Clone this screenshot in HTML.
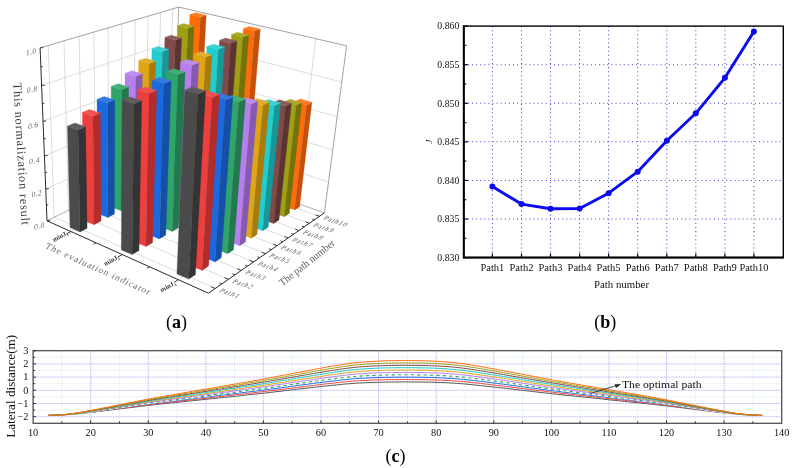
<!DOCTYPE html>
<html><head><meta charset="utf-8"><title>Figure</title>
<style>html,body{margin:0;padding:0;background:#fff;overflow:hidden}svg{display:block}</style></head>
<body><svg width="796" height="468" viewBox="0 0 796 468">
<rect width="796" height="468" fill="#ffffff"/>
<g id="chart-a" fill="none" stroke-linecap="butt">
<line x1="54.2" y1="217.3" x2="48.2" y2="45.5" stroke="#c4c4c4" stroke-width="0.6" />
<line x1="68.4" y1="210.3" x2="64.0" y2="40.8" stroke="#c4c4c4" stroke-width="0.6" />
<line x1="82.2" y1="203.6" x2="79.2" y2="36.4" stroke="#c4c4c4" stroke-width="0.6" />
<line x1="95.5" y1="197.1" x2="93.9" y2="32.0" stroke="#c4c4c4" stroke-width="0.6" />
<line x1="108.4" y1="190.8" x2="108.2" y2="27.8" stroke="#c4c4c4" stroke-width="0.6" />
<line x1="120.9" y1="184.7" x2="121.9" y2="23.8" stroke="#c4c4c4" stroke-width="0.6" />
<line x1="133.1" y1="178.8" x2="135.3" y2="19.9" stroke="#c4c4c4" stroke-width="0.6" />
<line x1="144.9" y1="173.0" x2="148.2" y2="16.1" stroke="#c4c4c4" stroke-width="0.6" />
<line x1="156.4" y1="167.4" x2="160.7" y2="12.4" stroke="#c4c4c4" stroke-width="0.6" />
<line x1="167.5" y1="162.0" x2="172.8" y2="8.9" stroke="#c4c4c4" stroke-width="0.6" />
<line x1="45.7" y1="189.0" x2="174.1" y2="131.0" stroke="#c4c4c4" stroke-width="0.6" />
<line x1="44.4" y1="155.8" x2="175.2" y2="101.6" stroke="#c4c4c4" stroke-width="0.6" />
<line x1="43.0" y1="121.3" x2="176.3" y2="71.2" stroke="#c4c4c4" stroke-width="0.6" />
<line x1="41.6" y1="85.4" x2="177.5" y2="39.8" stroke="#c4c4c4" stroke-width="0.6" />
<line x1="195.9" y1="167.4" x2="203.9" y2="12.9" stroke="#c4c4c4" stroke-width="0.6" />
<line x1="244.4" y1="184.6" x2="257.4" y2="25.3" stroke="#c4c4c4" stroke-width="0.6" />
<line x1="296.7" y1="203.1" x2="315.6" y2="38.7" stroke="#c4c4c4" stroke-width="0.6" />
<line x1="174.1" y1="131.0" x2="328.5" y2="182.0" stroke="#c4c4c4" stroke-width="0.6" />
<line x1="175.2" y1="101.6" x2="332.8" y2="150.0" stroke="#c4c4c4" stroke-width="0.6" />
<line x1="176.3" y1="71.2" x2="337.2" y2="116.7" stroke="#c4c4c4" stroke-width="0.6" />
<line x1="177.5" y1="39.8" x2="341.8" y2="82.0" stroke="#c4c4c4" stroke-width="0.6" />
<line x1="54.2" y1="217.3" x2="215.2" y2="288.5" stroke="#c4c4c4" stroke-width="0.6" />
<line x1="68.4" y1="210.3" x2="228.4" y2="279.3" stroke="#c4c4c4" stroke-width="0.6" />
<line x1="82.2" y1="203.6" x2="241.2" y2="270.4" stroke="#c4c4c4" stroke-width="0.6" />
<line x1="95.5" y1="197.1" x2="253.6" y2="261.9" stroke="#c4c4c4" stroke-width="0.6" />
<line x1="108.4" y1="190.8" x2="265.5" y2="253.7" stroke="#c4c4c4" stroke-width="0.6" />
<line x1="120.9" y1="184.7" x2="277.0" y2="245.7" stroke="#c4c4c4" stroke-width="0.6" />
<line x1="133.1" y1="178.8" x2="288.2" y2="238.0" stroke="#c4c4c4" stroke-width="0.6" />
<line x1="144.9" y1="173.0" x2="299.0" y2="230.5" stroke="#c4c4c4" stroke-width="0.6" />
<line x1="156.4" y1="167.4" x2="309.4" y2="223.3" stroke="#c4c4c4" stroke-width="0.6" />
<line x1="167.5" y1="162.0" x2="319.5" y2="216.3" stroke="#c4c4c4" stroke-width="0.6" />
<line x1="71.0" y1="231.6" x2="195.9" y2="167.4" stroke="#c4c4c4" stroke-width="0.6" />
<line x1="122.2" y1="254.6" x2="244.4" y2="184.6" stroke="#c4c4c4" stroke-width="0.6" />
<line x1="178.3" y1="279.7" x2="296.7" y2="203.1" stroke="#c4c4c4" stroke-width="0.6" />
<line x1="47.0" y1="220.8" x2="173.0" y2="159.3" stroke="#8c8c8c" stroke-width="0.7" />
<line x1="173.0" y1="159.3" x2="324.4" y2="212.9" stroke="#8c8c8c" stroke-width="0.7" />
<line x1="173.0" y1="159.3" x2="178.7" y2="7.1" stroke="#8c8c8c" stroke-width="0.7" />
<line x1="40.1" y1="47.9" x2="178.7" y2="7.1" stroke="#8c8c8c" stroke-width="0.8" />
<line x1="178.7" y1="7.1" x2="346.6" y2="45.8" stroke="#8c8c8c" stroke-width="0.8" />
<line x1="346.6" y1="45.8" x2="324.4" y2="212.9" stroke="#8c8c8c" stroke-width="0.8" />
</g>
<g id="bars" stroke="none">
<polygon points="183.1,170.3 192.5,173.7 200.4,17.1 189.9,14.5" fill="#ff6d0a" stroke="#ff6d0a" stroke-width="0.3"/>
<polygon points="192.5,173.7 197.9,170.8 206.2,15.2 200.4,17.1" fill="#c4500a" stroke="#c4500a" stroke-width="0.3"/>
<polygon points="189.9,14.5 200.4,17.1 206.2,15.2 195.8,12.7" fill="#ff7c22" stroke="#ff7c22" stroke-width="0.3"/>
<polygon points="171.9,175.9 181.5,179.4 188.0,28.2 177.6,25.5" fill="#9f9f16" stroke="#9f9f16" stroke-width="0.3"/>
<polygon points="181.5,179.4 187.0,176.5 194.1,26.2 188.0,28.2" fill="#73730e" stroke="#73730e" stroke-width="0.3"/>
<polygon points="177.6,25.5 188.0,28.2 194.1,26.2 183.6,23.6" fill="#a9a92d" stroke="#a9a92d" stroke-width="0.3"/>
<polygon points="160.5,181.7 170.1,185.3 175.4,40.0 164.9,37.2" fill="#804a4a" stroke="#804a4a" stroke-width="0.3"/>
<polygon points="170.1,185.3 175.8,182.3 181.6,37.9 175.4,40.0" fill="#5b3333" stroke="#5b3333" stroke-width="0.3"/>
<polygon points="164.9,37.2 175.4,40.0 181.6,37.9 171.1,35.2" fill="#8d5c5c" stroke="#8d5c5c" stroke-width="0.3"/>
<polygon points="148.7,187.7 158.4,191.3 162.5,51.6 152.0,48.7" fill="#22cdcd" stroke="#22cdcd" stroke-width="0.3"/>
<polygon points="158.4,191.3 164.3,188.3 168.9,49.4 162.5,51.6" fill="#179797" stroke="#179797" stroke-width="0.3"/>
<polygon points="152.0,48.7 162.5,51.6 168.9,49.4 158.4,46.6" fill="#38d2d2" stroke="#38d2d2" stroke-width="0.3"/>
<polygon points="136.6,193.9 146.3,197.6 149.2,63.5 138.7,60.5" fill="#dea516" stroke="#dea516" stroke-width="0.3"/>
<polygon points="146.3,197.6 152.4,194.5 155.8,61.2 149.2,63.5" fill="#a97a0e" stroke="#a97a0e" stroke-width="0.3"/>
<polygon points="138.7,60.5 149.2,63.5 155.8,61.2 145.3,58.3" fill="#e1ae2d" stroke="#e1ae2d" stroke-width="0.3"/>
<polygon points="124.1,200.2 133.9,204.1 135.7,76.3 125.1,73.2" fill="#b67fee" stroke="#b67fee" stroke-width="0.3"/>
<polygon points="133.9,204.1 140.1,200.8 142.4,73.8 135.7,76.3" fill="#8659b2" stroke="#8659b2" stroke-width="0.3"/>
<polygon points="125.1,73.2 135.7,76.3 142.4,73.8 131.9,70.7" fill="#bd8cf0" stroke="#bd8cf0" stroke-width="0.3"/>
<polygon points="111.2,206.7 121.0,210.7 121.8,89.5 111.2,86.3" fill="#2fa56a" stroke="#2fa56a" stroke-width="0.3"/>
<polygon points="121.0,210.7 127.5,207.4 128.7,86.9 121.8,89.5" fill="#23794d" stroke="#23794d" stroke-width="0.3"/>
<polygon points="111.2,86.3 121.8,89.5 128.7,86.9 118.2,83.7" fill="#44ae79" stroke="#44ae79" stroke-width="0.3"/>
<polygon points="97.9,213.5 107.8,217.6 107.5,102.7 97.0,99.3" fill="#1c68de" stroke="#1c68de" stroke-width="0.3"/>
<polygon points="107.8,217.6 114.5,214.1 114.7,100.0 107.5,102.7" fill="#154fa8" stroke="#154fa8" stroke-width="0.3"/>
<polygon points="97.0,99.3 107.5,102.7 114.7,100.0 104.1,96.6" fill="#3377e1" stroke="#3377e1" stroke-width="0.3"/>
<polygon points="84.2,220.5 94.1,224.7 92.9,115.9 82.3,112.3" fill="#ee3f3f" stroke="#ee3f3f" stroke-width="0.3"/>
<polygon points="94.1,224.7 101.0,221.1 100.3,113.0 92.9,115.9" fill="#b22c2c" stroke="#b22c2c" stroke-width="0.3"/>
<polygon points="82.3,112.3 92.9,115.9 100.3,113.0 89.7,109.5" fill="#f05252" stroke="#f05252" stroke-width="0.3"/>
<polygon points="70.0,227.6 80.0,232.0 78.0,129.8 67.4,126.1" fill="#4b4b4b" stroke="#4b4b4b" stroke-width="0.3"/>
<polygon points="80.0,232.0 87.1,228.3 85.6,126.8 78.0,129.8" fill="#343434" stroke="#343434" stroke-width="0.3"/>
<polygon points="67.4,126.1 78.0,129.8 85.6,126.8 75.0,123.1" fill="#5d5d5d" stroke="#5d5d5d" stroke-width="0.3"/>
<polygon points="231.5,187.5 241.7,191.2 254.7,31.1 243.4,28.4" fill="#ff6d0a" stroke="#ff6d0a" stroke-width="0.3"/>
<polygon points="241.7,191.2 246.9,188.1 260.3,29.1 254.7,31.1" fill="#c4500a" stroke="#c4500a" stroke-width="0.3"/>
<polygon points="243.4,28.4 254.7,31.1 260.3,29.1 249.1,26.4" fill="#ff7c22" stroke="#ff7c22" stroke-width="0.3"/>
<polygon points="220.8,193.6 231.0,197.4 243.0,37.1 231.6,34.3" fill="#9f9f16" stroke="#9f9f16" stroke-width="0.3"/>
<polygon points="231.0,197.4 236.4,194.2 248.8,35.0 243.0,37.1" fill="#73730e" stroke="#73730e" stroke-width="0.3"/>
<polygon points="231.6,34.3 243.0,37.1 248.8,35.0 237.5,32.2" fill="#a9a92d" stroke="#a9a92d" stroke-width="0.3"/>
<polygon points="209.6,199.9 219.9,203.7 230.9,43.1 219.5,40.2" fill="#804a4a" stroke="#804a4a" stroke-width="0.3"/>
<polygon points="219.9,203.7 225.5,200.5 236.9,40.9 230.9,43.1" fill="#5b3333" stroke="#5b3333" stroke-width="0.3"/>
<polygon points="219.5,40.2 230.9,43.1 236.9,40.9 225.5,38.0" fill="#8d5c5c" stroke="#8d5c5c" stroke-width="0.3"/>
<polygon points="198.2,206.4 208.6,210.3 218.4,49.4 206.9,46.4" fill="#22cdcd" stroke="#22cdcd" stroke-width="0.3"/>
<polygon points="208.6,210.3 214.3,207.0 224.6,47.1 218.4,49.4" fill="#179797" stroke="#179797" stroke-width="0.3"/>
<polygon points="206.9,46.4 218.4,49.4 224.6,47.1 213.2,44.2" fill="#38d2d2" stroke="#38d2d2" stroke-width="0.3"/>
<polygon points="186.4,213.1 196.8,217.1 205.5,57.3 193.9,54.2" fill="#dea516" stroke="#dea516" stroke-width="0.3"/>
<polygon points="196.8,217.1 202.7,213.7 211.9,54.9 205.5,57.3" fill="#a97a0e" stroke="#a97a0e" stroke-width="0.3"/>
<polygon points="193.9,54.2 205.5,57.3 211.9,54.9 200.4,51.8" fill="#e1ae2d" stroke="#e1ae2d" stroke-width="0.3"/>
<polygon points="174.2,220.0 184.7,224.1 192.1,65.2 180.5,62.0" fill="#b67fee" stroke="#b67fee" stroke-width="0.3"/>
<polygon points="184.7,224.1 190.8,220.6 198.8,62.7 192.1,65.2" fill="#8659b2" stroke="#8659b2" stroke-width="0.3"/>
<polygon points="180.5,62.0 192.1,65.2 198.8,62.7 187.2,59.5" fill="#bd8cf0" stroke="#bd8cf0" stroke-width="0.3"/>
<polygon points="161.6,227.1 172.2,231.4 178.3,74.7 166.6,71.4" fill="#2fa56a" stroke="#2fa56a" stroke-width="0.3"/>
<polygon points="172.2,231.4 178.5,227.7 185.1,72.1 178.3,74.7" fill="#23794d" stroke="#23794d" stroke-width="0.3"/>
<polygon points="166.6,71.4 178.3,74.7 185.1,72.1 173.5,68.8" fill="#44ae79" stroke="#44ae79" stroke-width="0.3"/>
<polygon points="148.6,234.4 159.3,238.9 164.0,83.8 152.3,80.3" fill="#1c68de" stroke="#1c68de" stroke-width="0.3"/>
<polygon points="159.3,238.9 165.8,235.1 171.1,81.0 164.0,83.8" fill="#154fa8" stroke="#154fa8" stroke-width="0.3"/>
<polygon points="152.3,80.3 164.0,83.8 171.1,81.0 159.4,77.6" fill="#3377e1" stroke="#3377e1" stroke-width="0.3"/>
<polygon points="135.1,242.0 145.9,246.6 149.3,93.3 137.5,89.7" fill="#ee3f3f" stroke="#ee3f3f" stroke-width="0.3"/>
<polygon points="145.9,246.6 152.6,242.7 156.7,90.5 149.3,93.3" fill="#b22c2c" stroke="#b22c2c" stroke-width="0.3"/>
<polygon points="137.5,89.7 149.3,93.3 156.7,90.5 144.9,86.9" fill="#f05252" stroke="#f05252" stroke-width="0.3"/>
<polygon points="121.3,249.9 132.1,254.6 134.1,103.8 122.2,100.0" fill="#4b4b4b" stroke="#4b4b4b" stroke-width="0.3"/>
<polygon points="132.1,254.6 139.0,250.6 141.7,100.8 134.1,103.8" fill="#343434" stroke="#343434" stroke-width="0.3"/>
<polygon points="122.2,100.0 134.1,103.8 141.7,100.8 129.9,97.0" fill="#5d5d5d" stroke="#5d5d5d" stroke-width="0.3"/>
<polygon points="283.6,206.1 294.5,210.0 306.6,104.9 294.9,101.5" fill="#ff6d0a" stroke="#ff6d0a" stroke-width="0.3"/>
<polygon points="294.5,210.0 299.6,206.7 311.9,102.2 306.6,104.9" fill="#c4500a" stroke="#c4500a" stroke-width="0.3"/>
<polygon points="294.9,101.5 306.6,104.9 311.9,102.2 300.2,98.9" fill="#ff7c22" stroke="#ff7c22" stroke-width="0.3"/>
<polygon points="273.2,212.7 284.3,216.7 296.4,105.2 284.5,101.8" fill="#9f9f16" stroke="#9f9f16" stroke-width="0.3"/>
<polygon points="284.3,216.7 289.4,213.3 301.9,102.5 296.4,105.2" fill="#73730e" stroke="#73730e" stroke-width="0.3"/>
<polygon points="284.5,101.8 296.4,105.2 301.9,102.5 290.0,99.2" fill="#a9a92d" stroke="#a9a92d" stroke-width="0.3"/>
<polygon points="262.5,219.5 273.6,223.6 285.7,106.0 273.7,102.5" fill="#804a4a" stroke="#804a4a" stroke-width="0.3"/>
<polygon points="273.6,223.6 279.0,220.1 291.4,103.2 285.7,106.0" fill="#5b3333" stroke="#5b3333" stroke-width="0.3"/>
<polygon points="273.7,102.5 285.7,106.0 291.4,103.2 279.4,99.8" fill="#8d5c5c" stroke="#8d5c5c" stroke-width="0.3"/>
<polygon points="251.5,226.5 262.7,230.8 274.7,105.7 262.5,102.1" fill="#22cdcd" stroke="#22cdcd" stroke-width="0.3"/>
<polygon points="262.7,230.8 268.2,227.2 280.6,102.9 274.7,105.7" fill="#179797" stroke="#179797" stroke-width="0.3"/>
<polygon points="262.5,102.1 274.7,105.7 280.6,102.9 268.4,99.4" fill="#38d2d2" stroke="#38d2d2" stroke-width="0.3"/>
<polygon points="240.0,233.8 251.3,238.2 263.3,105.0 250.9,101.4" fill="#dea516" stroke="#dea516" stroke-width="0.3"/>
<polygon points="251.3,238.2 257.0,234.5 269.4,102.1 263.3,105.0" fill="#a97a0e" stroke="#a97a0e" stroke-width="0.3"/>
<polygon points="250.9,101.4 263.3,105.0 269.4,102.1 257.1,98.6" fill="#e1ae2d" stroke="#e1ae2d" stroke-width="0.3"/>
<polygon points="228.2,241.3 239.6,245.8 251.3,104.1 238.8,100.4" fill="#b67fee" stroke="#b67fee" stroke-width="0.3"/>
<polygon points="239.6,245.8 245.5,242.0 257.7,101.1 251.3,104.1" fill="#8659b2" stroke="#8659b2" stroke-width="0.3"/>
<polygon points="238.8,100.4 251.3,104.1 257.7,101.1 245.2,97.5" fill="#bd8cf0" stroke="#bd8cf0" stroke-width="0.3"/>
<polygon points="216.1,249.1 227.5,253.7 238.9,101.9 226.2,98.2" fill="#2fa56a" stroke="#2fa56a" stroke-width="0.3"/>
<polygon points="227.5,253.7 233.6,249.8 245.5,99.0 238.9,101.9" fill="#23794d" stroke="#23794d" stroke-width="0.3"/>
<polygon points="226.2,98.2 238.9,101.9 245.5,99.0 232.9,95.3" fill="#44ae79" stroke="#44ae79" stroke-width="0.3"/>
<polygon points="203.4,257.1 215.0,261.9 225.9,99.9 213.1,96.1" fill="#1c68de" stroke="#1c68de" stroke-width="0.3"/>
<polygon points="215.0,261.9 221.3,257.8 232.8,96.9 225.9,99.9" fill="#154fa8" stroke="#154fa8" stroke-width="0.3"/>
<polygon points="213.1,96.1 225.9,99.9 232.8,96.9 220.0,93.2" fill="#3377e1" stroke="#3377e1" stroke-width="0.3"/>
<polygon points="190.4,265.4 202.1,270.4 212.3,97.4 199.3,93.5" fill="#ee3f3f" stroke="#ee3f3f" stroke-width="0.3"/>
<polygon points="202.1,270.4 208.6,266.1 219.5,94.3 212.3,97.4" fill="#b22c2c" stroke="#b22c2c" stroke-width="0.3"/>
<polygon points="199.3,93.5 212.3,97.4 219.5,94.3 206.5,90.5" fill="#f05252" stroke="#f05252" stroke-width="0.3"/>
<polygon points="176.9,274.0 188.7,279.1 198.1,93.9 184.8,89.9" fill="#4b4b4b" stroke="#4b4b4b" stroke-width="0.3"/>
<polygon points="188.7,279.1 195.4,274.7 205.6,90.8 198.1,93.9" fill="#343434" stroke="#343434" stroke-width="0.3"/>
<polygon points="184.8,89.9 198.1,93.9 205.6,90.8 192.4,86.9" fill="#5d5d5d" stroke="#5d5d5d" stroke-width="0.3"/>
</g>
<g id="axes-a" fill="none">
<line x1="47.0" y1="220.8" x2="40.1" y2="47.9" stroke="#2a2a2a" stroke-width="1.0" />
<line x1="47.0" y1="220.8" x2="208.4" y2="293.2" stroke="#2a2a2a" stroke-width="1.0" />
<line x1="208.4" y1="293.2" x2="324.4" y2="212.9" stroke="#2a2a2a" stroke-width="1.0" />
<line x1="47.0" y1="220.8" x2="50.2" y2="220.5" stroke="#2a2a2a" stroke-width="0.9" />
<line x1="46.3" y1="205.0" x2="48.3" y2="204.8" stroke="#2a2a2a" stroke-width="0.9" />
<line x1="45.7" y1="189.0" x2="48.9" y2="188.7" stroke="#2a2a2a" stroke-width="0.9" />
<line x1="45.0" y1="172.6" x2="47.0" y2="172.4" stroke="#2a2a2a" stroke-width="0.9" />
<line x1="44.4" y1="155.8" x2="47.6" y2="155.5" stroke="#2a2a2a" stroke-width="0.9" />
<line x1="43.7" y1="138.8" x2="45.7" y2="138.6" stroke="#2a2a2a" stroke-width="0.9" />
<line x1="43.0" y1="121.3" x2="46.2" y2="121.0" stroke="#2a2a2a" stroke-width="0.9" />
<line x1="42.3" y1="103.5" x2="44.3" y2="103.3" stroke="#2a2a2a" stroke-width="0.9" />
<line x1="41.6" y1="85.4" x2="44.8" y2="85.1" stroke="#2a2a2a" stroke-width="0.9" />
<line x1="40.8" y1="66.8" x2="42.8" y2="66.6" stroke="#2a2a2a" stroke-width="0.9" />
<line x1="40.1" y1="47.9" x2="43.3" y2="47.5" stroke="#2a2a2a" stroke-width="0.9" />
<line x1="71.0" y1="231.6" x2="66.6" y2="233.8" stroke="#2a2a2a" stroke-width="0.9" />
<line x1="96.0" y1="242.8" x2="93.4" y2="244.2" stroke="#2a2a2a" stroke-width="0.9" />
<line x1="122.2" y1="254.6" x2="117.9" y2="257.0" stroke="#2a2a2a" stroke-width="0.9" />
<line x1="149.6" y1="266.9" x2="147.1" y2="268.4" stroke="#2a2a2a" stroke-width="0.9" />
<line x1="178.3" y1="279.7" x2="174.1" y2="282.4" stroke="#2a2a2a" stroke-width="0.9" />
<line x1="215.2" y1="288.5" x2="211.1" y2="286.7" stroke="#2a2a2a" stroke-width="0.9" />
<line x1="221.9" y1="283.8" x2="219.5" y2="282.8" stroke="#2a2a2a" stroke-width="0.9" />
<line x1="228.4" y1="279.3" x2="224.4" y2="277.6" stroke="#2a2a2a" stroke-width="0.9" />
<line x1="234.9" y1="274.8" x2="232.5" y2="273.8" stroke="#2a2a2a" stroke-width="0.9" />
<line x1="241.2" y1="270.4" x2="237.3" y2="268.8" stroke="#2a2a2a" stroke-width="0.9" />
<line x1="247.5" y1="266.1" x2="245.1" y2="265.2" stroke="#2a2a2a" stroke-width="0.9" />
<line x1="253.6" y1="261.9" x2="249.6" y2="260.3" stroke="#2a2a2a" stroke-width="0.9" />
<line x1="259.6" y1="257.7" x2="257.3" y2="256.8" stroke="#2a2a2a" stroke-width="0.9" />
<line x1="265.5" y1="253.7" x2="261.6" y2="252.1" stroke="#2a2a2a" stroke-width="0.9" />
<line x1="271.3" y1="249.6" x2="269.0" y2="248.7" stroke="#2a2a2a" stroke-width="0.9" />
<line x1="277.0" y1="245.7" x2="273.2" y2="244.2" stroke="#2a2a2a" stroke-width="0.9" />
<line x1="282.7" y1="241.8" x2="280.4" y2="240.9" stroke="#2a2a2a" stroke-width="0.9" />
<line x1="288.2" y1="238.0" x2="284.3" y2="236.5" stroke="#2a2a2a" stroke-width="0.9" />
<line x1="293.6" y1="234.2" x2="291.3" y2="233.4" stroke="#2a2a2a" stroke-width="0.9" />
<line x1="299.0" y1="230.5" x2="295.1" y2="229.1" stroke="#2a2a2a" stroke-width="0.9" />
<line x1="304.2" y1="226.9" x2="302.0" y2="226.1" stroke="#2a2a2a" stroke-width="0.9" />
<line x1="309.4" y1="223.3" x2="305.6" y2="221.9" stroke="#2a2a2a" stroke-width="0.9" />
<line x1="314.5" y1="219.8" x2="312.3" y2="219.0" stroke="#2a2a2a" stroke-width="0.9" />
<line x1="319.5" y1="216.3" x2="315.7" y2="215.0" stroke="#2a2a2a" stroke-width="0.9" />
</g>
<g id="labels-a" font-family="'Liberation Serif', serif" fill="#4a4a4a">
<text transform="translate(39.2,226) rotate(-12) skewX(-14)" font-size="7.9" text-anchor="middle" dominant-baseline="central" textLength="10.5" lengthAdjust="spacing" fill="#6a6a6a">0.0</text>
<text transform="translate(36.6,193.8) rotate(-12) skewX(-14)" font-size="7.9" text-anchor="middle" dominant-baseline="central" textLength="10.5" lengthAdjust="spacing" fill="#6a6a6a">0.2</text>
<text transform="translate(34.2,160.9) rotate(-12) skewX(-14)" font-size="7.9" text-anchor="middle" dominant-baseline="central" textLength="10.5" lengthAdjust="spacing" fill="#6a6a6a">0.4</text>
<text transform="translate(33.1,125.6) rotate(-12) skewX(-14)" font-size="7.9" text-anchor="middle" dominant-baseline="central" textLength="10.5" lengthAdjust="spacing" fill="#6a6a6a">0.6</text>
<text transform="translate(32,89.7) rotate(-12) skewX(-14)" font-size="7.9" text-anchor="middle" dominant-baseline="central" textLength="10.5" lengthAdjust="spacing" fill="#6a6a6a">0.8</text>
<text transform="translate(31,52) rotate(-12) skewX(-14)" font-size="7.9" text-anchor="middle" dominant-baseline="central" textLength="10.5" lengthAdjust="spacing" fill="#6a6a6a">1.0</text>
<text transform="translate(13.2,83) rotate(86.6)" font-size="12.2" textLength="142.5" lengthAdjust="spacing" fill="#3a3a3a">This normalization result</text>
<text transform="translate(44.3,247.8) rotate(24.3) skewX(-12)" font-size="9.2" textLength="114" lengthAdjust="spacing" fill="#666">The evaluation indicator</text>
<text transform="translate(282.5,286.5) rotate(-38.5)" font-size="10.5" textLength="68" lengthAdjust="spacingAndGlyphs" fill="#5c5c5c">The path number</text>
<text transform="translate(54,241.9) rotate(-28)" font-size="6.6" font-weight="bold" fill="#333">minJ<tspan font-size="4.4" dy="1.4">1</tspan></text>
<text transform="translate(105.3,266.0) rotate(-28)" font-size="6.6" font-weight="bold" fill="#333">minJ<tspan font-size="4.4" dy="1.4">2</tspan></text>
<text transform="translate(161.6,292.2) rotate(-28)" font-size="6.6" font-weight="bold" fill="#333">minJ<tspan font-size="4.4" dy="1.4">3</tspan></text>
<text transform="translate(218.4,291.7) rotate(19) skewX(-30)" font-size="7" textLength="19.8" lengthAdjust="spacing" fill="#606060">Path1</text>
<text transform="translate(231.6,282.5) rotate(19) skewX(-30)" font-size="7" textLength="19.8" lengthAdjust="spacing" fill="#606060">Path2</text>
<text transform="translate(244.4,273.6) rotate(19) skewX(-30)" font-size="7" textLength="19.8" lengthAdjust="spacing" fill="#606060">Path3</text>
<text transform="translate(256.7,265.0) rotate(19) skewX(-30)" font-size="7" textLength="19.8" lengthAdjust="spacing" fill="#606060">Path4</text>
<text transform="translate(268.6,256.7) rotate(19) skewX(-30)" font-size="7" textLength="19.8" lengthAdjust="spacing" fill="#606060">Path5</text>
<text transform="translate(280.1,248.7) rotate(19) skewX(-30)" font-size="7" textLength="19.8" lengthAdjust="spacing" fill="#606060">Path6</text>
<text transform="translate(291.2,240.9) rotate(19) skewX(-30)" font-size="7" textLength="19.8" lengthAdjust="spacing" fill="#606060">Path7</text>
<text transform="translate(301.9,233.4) rotate(19) skewX(-30)" font-size="7" textLength="19.8" lengthAdjust="spacing" fill="#606060">Path8</text>
<text transform="translate(312.3,226.2) rotate(19) skewX(-30)" font-size="7" textLength="19.8" lengthAdjust="spacing" fill="#606060">Path9</text>
<text transform="translate(322.4,219.1) rotate(19) skewX(-30)" font-size="7" textLength="23.8" lengthAdjust="spacing" fill="#606060">Path10</text>
</g>
<g id="chart-b">
<line x1="492.4" y1="26.1" x2="492.4" y2="257.6" stroke="#4a4ad6" stroke-width="1.05" stroke-dasharray="1.05 3.05"/>
<line x1="521.5" y1="26.1" x2="521.5" y2="257.6" stroke="#4a4ad6" stroke-width="1.05" stroke-dasharray="1.05 3.05"/>
<line x1="550.5" y1="26.1" x2="550.5" y2="257.6" stroke="#4a4ad6" stroke-width="1.05" stroke-dasharray="1.05 3.05"/>
<line x1="579.6" y1="26.1" x2="579.6" y2="257.6" stroke="#4a4ad6" stroke-width="1.05" stroke-dasharray="1.05 3.05"/>
<line x1="608.6" y1="26.1" x2="608.6" y2="257.6" stroke="#4a4ad6" stroke-width="1.05" stroke-dasharray="1.05 3.05"/>
<line x1="637.7" y1="26.1" x2="637.7" y2="257.6" stroke="#4a4ad6" stroke-width="1.05" stroke-dasharray="1.05 3.05"/>
<line x1="666.8" y1="26.1" x2="666.8" y2="257.6" stroke="#4a4ad6" stroke-width="1.05" stroke-dasharray="1.05 3.05"/>
<line x1="695.8" y1="26.1" x2="695.8" y2="257.6" stroke="#4a4ad6" stroke-width="1.05" stroke-dasharray="1.05 3.05"/>
<line x1="724.9" y1="26.1" x2="724.9" y2="257.6" stroke="#4a4ad6" stroke-width="1.05" stroke-dasharray="1.05 3.05"/>
<line x1="753.9" y1="26.1" x2="753.9" y2="257.6" stroke="#4a4ad6" stroke-width="1.05" stroke-dasharray="1.05 3.05"/>
<line x1="463.8" y1="219.0" x2="783.3" y2="219.0" stroke="#4a4ad6" stroke-width="1.05" stroke-dasharray="1.05 3.05"/>
<line x1="463.8" y1="180.4" x2="783.3" y2="180.4" stroke="#4a4ad6" stroke-width="1.05" stroke-dasharray="1.05 3.05"/>
<line x1="463.8" y1="141.8" x2="783.3" y2="141.8" stroke="#4a4ad6" stroke-width="1.05" stroke-dasharray="1.05 3.05"/>
<line x1="463.8" y1="103.3" x2="783.3" y2="103.3" stroke="#4a4ad6" stroke-width="1.05" stroke-dasharray="1.05 3.05"/>
<line x1="463.8" y1="64.7" x2="783.3" y2="64.7" stroke="#4a4ad6" stroke-width="1.05" stroke-dasharray="1.05 3.05"/>
<rect x="463.8" y="26.1" width="319.5" height="231.5" fill="none" stroke="#000" stroke-width="1.4"/>
<polyline points="463.8,25.400000000000002 463.8,257.6 784.0,257.6" fill="none" stroke="#000" stroke-width="2"/>
<line x1="463.8" y1="257.6" x2="467.8" y2="257.6" stroke="#000" stroke-width="1.2"/>
<line x1="463.8" y1="238.3" x2="466.3" y2="238.3" stroke="#000" stroke-width="1.2"/>
<line x1="463.8" y1="219.0" x2="467.8" y2="219.0" stroke="#000" stroke-width="1.2"/>
<line x1="463.8" y1="199.7" x2="466.3" y2="199.7" stroke="#000" stroke-width="1.2"/>
<line x1="463.8" y1="180.4" x2="467.8" y2="180.4" stroke="#000" stroke-width="1.2"/>
<line x1="463.8" y1="161.1" x2="466.3" y2="161.1" stroke="#000" stroke-width="1.2"/>
<line x1="463.8" y1="141.8" x2="467.8" y2="141.8" stroke="#000" stroke-width="1.2"/>
<line x1="463.8" y1="122.6" x2="466.3" y2="122.6" stroke="#000" stroke-width="1.2"/>
<line x1="463.8" y1="103.3" x2="467.8" y2="103.3" stroke="#000" stroke-width="1.2"/>
<line x1="463.8" y1="84.0" x2="466.3" y2="84.0" stroke="#000" stroke-width="1.2"/>
<line x1="463.8" y1="64.7" x2="467.8" y2="64.7" stroke="#000" stroke-width="1.2"/>
<line x1="463.8" y1="45.4" x2="466.3" y2="45.4" stroke="#000" stroke-width="1.2"/>
<line x1="463.8" y1="26.1" x2="467.8" y2="26.1" stroke="#000" stroke-width="1.2"/>
<line x1="492.4" y1="257.6" x2="492.4" y2="253.60000000000002" stroke="#000" stroke-width="1.2"/>
<line x1="521.5" y1="257.6" x2="521.5" y2="253.60000000000002" stroke="#000" stroke-width="1.2"/>
<line x1="550.5" y1="257.6" x2="550.5" y2="253.60000000000002" stroke="#000" stroke-width="1.2"/>
<line x1="579.6" y1="257.6" x2="579.6" y2="253.60000000000002" stroke="#000" stroke-width="1.2"/>
<line x1="608.6" y1="257.6" x2="608.6" y2="253.60000000000002" stroke="#000" stroke-width="1.2"/>
<line x1="637.7" y1="257.6" x2="637.7" y2="253.60000000000002" stroke="#000" stroke-width="1.2"/>
<line x1="666.8" y1="257.6" x2="666.8" y2="253.60000000000002" stroke="#000" stroke-width="1.2"/>
<line x1="695.8" y1="257.6" x2="695.8" y2="253.60000000000002" stroke="#000" stroke-width="1.2"/>
<line x1="724.9" y1="257.6" x2="724.9" y2="253.60000000000002" stroke="#000" stroke-width="1.2"/>
<line x1="753.9" y1="257.6" x2="753.9" y2="253.60000000000002" stroke="#000" stroke-width="1.2"/>
<polyline points="492.4,186.6 521.5,204.1 550.5,208.8 579.6,208.5 608.6,193.2 637.7,171.7 666.8,140.7 695.8,113.3 724.9,77.8 753.9,31.5" fill="none" stroke="#0b0bee" stroke-width="2.9" stroke-linejoin="round"/>
<circle cx="492.4" cy="186.6" r="3.0" fill="#0b0bee"/>
<circle cx="521.5" cy="204.1" r="3.0" fill="#0b0bee"/>
<circle cx="550.5" cy="208.8" r="3.0" fill="#0b0bee"/>
<circle cx="579.6" cy="208.5" r="3.0" fill="#0b0bee"/>
<circle cx="608.6" cy="193.2" r="3.0" fill="#0b0bee"/>
<circle cx="637.7" cy="171.7" r="3.0" fill="#0b0bee"/>
<circle cx="666.8" cy="140.7" r="3.0" fill="#0b0bee"/>
<circle cx="695.8" cy="113.3" r="3.0" fill="#0b0bee"/>
<circle cx="724.9" cy="77.8" r="3.0" fill="#0b0bee"/>
<circle cx="753.9" cy="31.5" r="3.0" fill="#0b0bee"/>
<g font-family="'Liberation Serif', serif" font-size="10.3" fill="#111">
<text x="459.3" y="260.8" text-anchor="end" textLength="22" lengthAdjust="spacingAndGlyphs">0.830</text>
<text x="459.3" y="222.2" text-anchor="end" textLength="22" lengthAdjust="spacingAndGlyphs">0.835</text>
<text x="459.3" y="183.6" text-anchor="end" textLength="22" lengthAdjust="spacingAndGlyphs">0.840</text>
<text x="459.3" y="145.0" text-anchor="end" textLength="22" lengthAdjust="spacingAndGlyphs">0.845</text>
<text x="459.3" y="106.5" text-anchor="end" textLength="22" lengthAdjust="spacingAndGlyphs">0.850</text>
<text x="459.3" y="67.9" text-anchor="end" textLength="22" lengthAdjust="spacingAndGlyphs">0.855</text>
<text x="459.3" y="29.3" text-anchor="end" textLength="22" lengthAdjust="spacingAndGlyphs">0.860</text>
<text x="492.4" y="270.5" text-anchor="middle" textLength="24" lengthAdjust="spacingAndGlyphs">Path1</text>
<text x="521.5" y="270.5" text-anchor="middle" textLength="24" lengthAdjust="spacingAndGlyphs">Path2</text>
<text x="550.5" y="270.5" text-anchor="middle" textLength="24" lengthAdjust="spacingAndGlyphs">Path3</text>
<text x="579.6" y="270.5" text-anchor="middle" textLength="24" lengthAdjust="spacingAndGlyphs">Path4</text>
<text x="608.6" y="270.5" text-anchor="middle" textLength="24" lengthAdjust="spacingAndGlyphs">Path5</text>
<text x="637.7" y="270.5" text-anchor="middle" textLength="24" lengthAdjust="spacingAndGlyphs">Path6</text>
<text x="666.8" y="270.5" text-anchor="middle" textLength="24" lengthAdjust="spacingAndGlyphs">Path7</text>
<text x="695.8" y="270.5" text-anchor="middle" textLength="24" lengthAdjust="spacingAndGlyphs">Path8</text>
<text x="724.9" y="270.5" text-anchor="middle" textLength="24" lengthAdjust="spacingAndGlyphs">Path9</text>
<text x="753.9" y="270.5" text-anchor="middle" textLength="29" lengthAdjust="spacingAndGlyphs">Path10</text>
<text x="621.5" y="288" text-anchor="middle" font-size="10.2" textLength="55" lengthAdjust="spacingAndGlyphs">Path number</text>
<text transform="translate(432.3,141.5) rotate(-90)" text-anchor="middle" font-size="8.5" font-style="italic">J</text>
</g></g>
<g id="chart-c">
<line x1="61.9" y1="350.7" x2="61.9" y2="423.3" stroke="#d6f1d9" stroke-width="0.7" stroke-dasharray="1.2 0.5"/>
<line x1="119.5" y1="350.7" x2="119.5" y2="423.3" stroke="#d6f1d9" stroke-width="0.7" stroke-dasharray="1.2 0.5"/>
<line x1="177.1" y1="350.7" x2="177.1" y2="423.3" stroke="#d6f1d9" stroke-width="0.7" stroke-dasharray="1.2 0.5"/>
<line x1="234.6" y1="350.7" x2="234.6" y2="423.3" stroke="#d6f1d9" stroke-width="0.7" stroke-dasharray="1.2 0.5"/>
<line x1="292.2" y1="350.7" x2="292.2" y2="423.3" stroke="#d6f1d9" stroke-width="0.7" stroke-dasharray="1.2 0.5"/>
<line x1="349.8" y1="350.7" x2="349.8" y2="423.3" stroke="#d6f1d9" stroke-width="0.7" stroke-dasharray="1.2 0.5"/>
<line x1="407.4" y1="350.7" x2="407.4" y2="423.3" stroke="#d6f1d9" stroke-width="0.7" stroke-dasharray="1.2 0.5"/>
<line x1="465.0" y1="350.7" x2="465.0" y2="423.3" stroke="#d6f1d9" stroke-width="0.7" stroke-dasharray="1.2 0.5"/>
<line x1="522.6" y1="350.7" x2="522.6" y2="423.3" stroke="#d6f1d9" stroke-width="0.7" stroke-dasharray="1.2 0.5"/>
<line x1="580.2" y1="350.7" x2="580.2" y2="423.3" stroke="#d6f1d9" stroke-width="0.7" stroke-dasharray="1.2 0.5"/>
<line x1="637.7" y1="350.7" x2="637.7" y2="423.3" stroke="#d6f1d9" stroke-width="0.7" stroke-dasharray="1.2 0.5"/>
<line x1="695.3" y1="350.7" x2="695.3" y2="423.3" stroke="#d6f1d9" stroke-width="0.7" stroke-dasharray="1.2 0.5"/>
<line x1="752.9" y1="350.7" x2="752.9" y2="423.3" stroke="#d6f1d9" stroke-width="0.7" stroke-dasharray="1.2 0.5"/>
<line x1="33.1" y1="410.1" x2="781.7" y2="410.1" stroke="#d6f1d9" stroke-width="0.7" stroke-dasharray="1.2 0.5"/>
<line x1="33.1" y1="396.9" x2="781.7" y2="396.9" stroke="#d6f1d9" stroke-width="0.7" stroke-dasharray="1.2 0.5"/>
<line x1="33.1" y1="383.7" x2="781.7" y2="383.7" stroke="#d6f1d9" stroke-width="0.7" stroke-dasharray="1.2 0.5"/>
<line x1="33.1" y1="370.5" x2="781.7" y2="370.5" stroke="#d6f1d9" stroke-width="0.7" stroke-dasharray="1.2 0.5"/>
<line x1="33.1" y1="357.3" x2="781.7" y2="357.3" stroke="#d6f1d9" stroke-width="0.7" stroke-dasharray="1.2 0.5"/>
<line x1="90.7" y1="350.7" x2="90.7" y2="423.3" stroke="#968cee" stroke-width="0.75" stroke-dasharray="0.9 0.8"/>
<line x1="148.3" y1="350.7" x2="148.3" y2="423.3" stroke="#968cee" stroke-width="0.75" stroke-dasharray="0.9 0.8"/>
<line x1="205.9" y1="350.7" x2="205.9" y2="423.3" stroke="#968cee" stroke-width="0.75" stroke-dasharray="0.9 0.8"/>
<line x1="263.4" y1="350.7" x2="263.4" y2="423.3" stroke="#968cee" stroke-width="0.75" stroke-dasharray="0.9 0.8"/>
<line x1="321.0" y1="350.7" x2="321.0" y2="423.3" stroke="#968cee" stroke-width="0.75" stroke-dasharray="0.9 0.8"/>
<line x1="378.6" y1="350.7" x2="378.6" y2="423.3" stroke="#968cee" stroke-width="0.75" stroke-dasharray="0.9 0.8"/>
<line x1="436.2" y1="350.7" x2="436.2" y2="423.3" stroke="#968cee" stroke-width="0.75" stroke-dasharray="0.9 0.8"/>
<line x1="493.8" y1="350.7" x2="493.8" y2="423.3" stroke="#968cee" stroke-width="0.75" stroke-dasharray="0.9 0.8"/>
<line x1="551.4" y1="350.7" x2="551.4" y2="423.3" stroke="#968cee" stroke-width="0.75" stroke-dasharray="0.9 0.8"/>
<line x1="609.0" y1="350.7" x2="609.0" y2="423.3" stroke="#968cee" stroke-width="0.75" stroke-dasharray="0.9 0.8"/>
<line x1="666.5" y1="350.7" x2="666.5" y2="423.3" stroke="#968cee" stroke-width="0.75" stroke-dasharray="0.9 0.8"/>
<line x1="724.1" y1="350.7" x2="724.1" y2="423.3" stroke="#968cee" stroke-width="0.75" stroke-dasharray="0.9 0.8"/>
<line x1="33.1" y1="416.7" x2="781.7" y2="416.7" stroke="#968cee" stroke-width="0.75" stroke-dasharray="0.9 0.8"/>
<line x1="33.1" y1="403.5" x2="781.7" y2="403.5" stroke="#968cee" stroke-width="0.75" stroke-dasharray="0.9 0.8"/>
<line x1="33.1" y1="390.3" x2="781.7" y2="390.3" stroke="#968cee" stroke-width="0.75" stroke-dasharray="0.9 0.8"/>
<line x1="33.1" y1="377.1" x2="781.7" y2="377.1" stroke="#968cee" stroke-width="0.75" stroke-dasharray="0.9 0.8"/>
<line x1="33.1" y1="363.9" x2="781.7" y2="363.9" stroke="#968cee" stroke-width="0.75" stroke-dasharray="0.9 0.8"/>
<polyline points="48.6,415.4 51.5,415.4 54.4,415.3 57.3,415.2 60.2,415.1 63.0,414.9 65.9,414.8 68.8,414.6 71.7,414.4 74.6,414.1 77.4,413.9 80.3,413.6 83.2,413.3 86.1,412.9 89.0,412.6 91.8,412.3 94.7,411.9 97.6,411.6 100.5,411.3 103.4,410.9 106.2,410.5 109.1,410.2 112.0,409.8 114.9,409.5 117.7,409.1 120.6,408.8 123.5,408.4 126.4,408.1 129.3,407.7 132.1,407.4 135.0,407.0 137.9,406.7 140.8,406.3 143.7,406.0 146.5,405.6 149.4,405.3 152.3,405.0 155.2,404.7 158.1,404.3 160.9,404.0 163.8,403.7 166.7,403.4 169.6,403.1 172.5,402.8 175.3,402.5 178.2,402.2 181.1,401.9 184.0,401.6 186.9,401.3 189.7,401.0 192.6,400.7 195.5,400.4 198.4,400.1 201.2,399.8 204.1,399.5 207.0,399.2 209.9,398.9 212.8,398.6 215.6,398.3 218.5,398.0 221.4,397.7 224.3,397.4 227.2,397.1 230.0,396.8 232.9,396.5 235.8,396.2 238.7,395.9 241.6,395.5 244.4,395.2 247.3,394.9 250.2,394.6 253.1,394.3 256.0,394.0 258.8,393.7 261.7,393.4 264.6,393.1 267.5,392.7 270.4,392.4 273.2,392.1 276.1,391.7 279.0,391.4 281.9,391.1 284.7,390.7 287.6,390.4 290.5,390.1 293.4,389.7 296.3,389.4 299.1,389.0 302.0,388.7 304.9,388.4 307.8,388.0 310.7,387.7 313.5,387.4 316.4,387.1 319.3,386.7 322.2,386.4 325.1,386.1 327.9,385.8 330.8,385.5 333.7,385.2 336.6,384.9 339.5,384.6 342.3,384.3 345.2,384.0 348.1,383.8 351.0,383.6 353.8,383.4 356.7,383.2 359.6,383.0 362.5,382.9 365.4,382.7 368.2,382.6 371.1,382.5 374.0,382.4 376.9,382.3 379.8,382.2 382.6,382.2 385.5,382.1 388.4,382.0 391.3,382.0 394.2,382.0 397.0,382.0 399.9,381.9 402.8,381.9 405.7,381.9 408.6,381.9 411.4,381.9 414.3,382.0 417.2,382.0 420.1,382.0 423.0,382.0 425.8,382.1 428.7,382.2 431.6,382.2 434.5,382.3 437.3,382.4 440.2,382.5 443.1,382.6 446.0,382.7 448.9,382.9 451.7,383.0 454.6,383.2 457.5,383.4 460.4,383.6 463.3,383.8 466.1,384.1 469.0,384.4 471.9,384.7 474.8,385.0 477.7,385.3 480.5,385.6 483.4,385.9 486.3,386.2 489.2,386.5 492.1,386.8 494.9,387.1 497.8,387.5 500.7,387.8 503.6,388.1 506.4,388.4 509.3,388.8 512.2,389.1 515.1,389.5 518.0,389.8 520.8,390.1 523.7,390.5 526.6,390.8 529.5,391.1 532.4,391.5 535.2,391.8 538.1,392.1 541.0,392.5 543.9,392.8 546.8,393.1 549.6,393.4 552.5,393.8 555.4,394.1 558.3,394.4 561.2,394.7 564.0,395.0 566.9,395.3 569.8,395.6 572.7,395.9 575.6,396.2 578.4,396.5 581.3,396.8 584.2,397.1 587.1,397.4 589.9,397.7 592.8,398.0 595.7,398.3 598.6,398.6 601.5,398.9 604.3,399.2 607.2,399.6 610.1,399.9 613.0,400.2 615.9,400.5 618.7,400.8 621.6,401.1 624.5,401.4 627.4,401.7 630.3,402.0 633.1,402.3 636.0,402.6 638.9,402.9 641.8,403.2 644.7,403.5 647.5,403.8 650.4,404.1 653.3,404.4 656.2,404.7 659.0,405.0 661.9,405.4 664.8,405.7 667.7,406.0 670.6,406.4 673.4,406.7 676.3,407.1 679.2,407.4 682.1,407.8 685.0,408.1 687.8,408.5 690.7,408.8 693.6,409.2 696.5,409.6 699.4,409.9 702.2,410.3 705.1,410.6 708.0,411.0 710.9,411.3 713.8,411.7 716.6,412.0 719.5,412.3 722.4,412.7 725.3,413.0 728.2,413.3 731.0,413.6 733.9,413.9 736.8,414.2 739.7,414.4 742.5,414.6 745.4,414.8 748.3,415.0 751.2,415.1 754.1,415.2 756.9,415.3 759.8,415.4 762.1,415.4" fill="none" stroke="#555555" stroke-width="1.0" stroke-linejoin="round"/>
<polyline points="48.6,415.4 51.5,415.4 54.4,415.3 57.3,415.2 60.2,415.0 63.0,414.9 65.9,414.7 68.8,414.5 71.7,414.3 74.6,414.0 77.4,413.8 80.3,413.4 83.2,413.1 86.1,412.7 89.0,412.4 91.8,412.0 94.7,411.7 97.6,411.3 100.5,411.0 103.4,410.6 106.2,410.2 109.1,409.8 112.0,409.4 114.9,409.1 117.7,408.7 120.6,408.3 123.5,407.9 126.4,407.6 129.3,407.2 132.1,406.8 135.0,406.4 137.9,406.0 140.8,405.7 143.7,405.3 146.5,404.9 149.4,404.6 152.3,404.2 155.2,403.9 158.1,403.6 160.9,403.2 163.8,402.9 166.7,402.6 169.6,402.2 172.5,401.9 175.3,401.6 178.2,401.3 181.1,400.9 184.0,400.6 186.9,400.3 189.7,400.0 192.6,399.7 195.5,399.3 198.4,399.0 201.2,398.7 204.1,398.4 207.0,398.0 209.9,397.7 212.8,397.4 215.6,397.1 218.5,396.7 221.4,396.4 224.3,396.1 227.2,395.8 230.0,395.4 232.9,395.1 235.8,394.8 238.7,394.5 241.6,394.1 244.4,393.8 247.3,393.5 250.2,393.2 253.1,392.8 256.0,392.5 258.8,392.1 261.7,391.8 264.6,391.5 267.5,391.1 270.4,390.8 273.2,390.4 276.1,390.1 279.0,389.7 281.9,389.4 284.7,389.0 287.6,388.6 290.5,388.3 293.4,387.9 296.3,387.5 299.1,387.2 302.0,386.8 304.9,386.5 307.8,386.1 310.7,385.8 313.5,385.4 316.4,385.1 319.3,384.7 322.2,384.4 325.1,384.0 327.9,383.7 330.8,383.4 333.7,383.1 336.6,382.7 339.5,382.4 342.3,382.1 345.2,381.8 348.1,381.5 351.0,381.3 353.8,381.1 356.7,380.9 359.6,380.7 362.5,380.5 365.4,380.4 368.2,380.3 371.1,380.1 374.0,380.0 376.9,379.9 379.8,379.9 382.6,379.8 385.5,379.7 388.4,379.7 391.3,379.6 394.2,379.6 397.0,379.6 399.9,379.6 402.8,379.6 405.7,379.5 408.6,379.6 411.4,379.6 414.3,379.6 417.2,379.6 420.1,379.6 423.0,379.7 425.8,379.7 428.7,379.8 431.6,379.9 434.5,380.0 437.3,380.1 440.2,380.2 443.1,380.3 446.0,380.4 448.9,380.6 451.7,380.7 454.6,380.9 457.5,381.1 460.4,381.3 463.3,381.6 466.1,381.9 469.0,382.2 471.9,382.5 474.8,382.8 477.7,383.1 480.5,383.4 483.4,383.8 486.3,384.1 489.2,384.4 492.1,384.8 494.9,385.1 497.8,385.5 500.7,385.8 503.6,386.2 506.4,386.5 509.3,386.9 512.2,387.3 515.1,387.6 518.0,388.0 520.8,388.3 523.7,388.7 526.6,389.1 529.5,389.4 532.4,389.8 535.2,390.1 538.1,390.5 541.0,390.8 543.9,391.2 546.8,391.5 549.6,391.9 552.5,392.2 555.4,392.6 558.3,392.9 561.2,393.2 564.0,393.5 566.9,393.9 569.8,394.2 572.7,394.5 575.6,394.9 578.4,395.2 581.3,395.5 584.2,395.8 587.1,396.2 589.9,396.5 592.8,396.8 595.7,397.1 598.6,397.5 601.5,397.8 604.3,398.1 607.2,398.4 610.1,398.8 613.0,399.1 615.9,399.4 618.7,399.7 621.6,400.0 624.5,400.4 627.4,400.7 630.3,401.0 633.1,401.3 636.0,401.7 638.9,402.0 641.8,402.3 644.7,402.6 647.5,403.0 650.4,403.3 653.3,403.6 656.2,404.0 659.0,404.3 661.9,404.7 664.8,405.0 667.7,405.4 670.6,405.7 673.4,406.1 676.3,406.5 679.2,406.9 682.1,407.3 685.0,407.6 687.8,408.0 690.7,408.4 693.6,408.8 696.5,409.1 699.4,409.5 702.2,409.9 705.1,410.3 708.0,410.7 710.9,411.0 713.8,411.4 716.6,411.8 719.5,412.1 722.4,412.5 725.3,412.8 728.2,413.2 731.0,413.5 733.9,413.8 736.8,414.1 739.7,414.3 742.5,414.6 745.4,414.8 748.3,414.9 751.2,415.1 754.1,415.2 756.9,415.3 759.8,415.4 762.1,415.4" fill="none" stroke="#ee4444" stroke-width="1.0" stroke-linejoin="round"/>
<polyline points="48.6,415.4 51.5,415.3 54.4,415.3 57.3,415.1 60.2,415.0 63.0,414.9 65.9,414.7 68.8,414.5 71.7,414.2 74.6,413.9 77.4,413.6 80.3,413.3 83.2,412.9 86.1,412.6 89.0,412.2 91.8,411.8 94.7,411.4 97.6,411.1 100.5,410.7 103.4,410.3 106.2,409.9 109.1,409.5 112.0,409.1 114.9,408.6 117.7,408.2 120.6,407.8 123.5,407.4 126.4,407.0 129.3,406.6 132.1,406.2 135.0,405.8 137.9,405.4 140.8,405.0 143.7,404.6 146.5,404.3 149.4,403.9 152.3,403.5 155.2,403.1 158.1,402.8 160.9,402.4 163.8,402.1 166.7,401.7 169.6,401.4 172.5,401.0 175.3,400.7 178.2,400.3 181.1,400.0 184.0,399.6 186.9,399.3 189.7,399.0 192.6,398.6 195.5,398.3 198.4,397.9 201.2,397.6 204.1,397.2 207.0,396.9 209.9,396.5 212.8,396.2 215.6,395.8 218.5,395.5 221.4,395.2 224.3,394.8 227.2,394.5 230.0,394.1 232.9,393.8 235.8,393.4 238.7,393.1 241.6,392.7 244.4,392.4 247.3,392.0 250.2,391.7 253.1,391.3 256.0,391.0 258.8,390.6 261.7,390.3 264.6,389.9 267.5,389.5 270.4,389.1 273.2,388.8 276.1,388.4 279.0,388.0 281.9,387.6 284.7,387.2 287.6,386.9 290.5,386.5 293.4,386.1 296.3,385.7 299.1,385.3 302.0,384.9 304.9,384.5 307.8,384.2 310.7,383.8 313.5,383.4 316.4,383.0 319.3,382.7 322.2,382.3 325.1,382.0 327.9,381.6 330.8,381.3 333.7,380.9 336.6,380.6 339.5,380.3 342.3,379.9 345.2,379.6 348.1,379.3 351.0,379.0 353.8,378.8 356.7,378.6 359.6,378.4 362.5,378.2 365.4,378.1 368.2,377.9 371.1,377.8 374.0,377.7 376.9,377.6 379.8,377.5 382.6,377.4 385.5,377.4 388.4,377.3 391.3,377.3 394.2,377.2 397.0,377.2 399.9,377.2 402.8,377.2 405.7,377.2 408.6,377.2 411.4,377.2 414.3,377.2 417.2,377.2 420.1,377.3 423.0,377.3 425.8,377.4 428.7,377.5 431.6,377.5 434.5,377.6 437.3,377.7 440.2,377.8 443.1,378.0 446.0,378.1 448.9,378.3 451.7,378.4 454.6,378.6 457.5,378.9 460.4,379.1 463.3,379.4 466.1,379.7 469.0,380.0 471.9,380.3 474.8,380.7 477.7,381.0 480.5,381.3 483.4,381.7 486.3,382.0 489.2,382.4 492.1,382.8 494.9,383.1 497.8,383.5 500.7,383.9 503.6,384.2 506.4,384.6 509.3,385.0 512.2,385.4 515.1,385.8 518.0,386.2 520.8,386.5 523.7,386.9 526.6,387.3 529.5,387.7 532.4,388.1 535.2,388.5 538.1,388.8 541.0,389.2 543.9,389.6 546.8,390.0 549.6,390.3 552.5,390.7 555.4,391.0 558.3,391.4 561.2,391.8 564.0,392.1 566.9,392.5 569.8,392.8 572.7,393.2 575.6,393.5 578.4,393.8 581.3,394.2 584.2,394.5 587.1,394.9 589.9,395.2 592.8,395.6 595.7,395.9 598.6,396.3 601.5,396.6 604.3,397.0 607.2,397.3 610.1,397.7 613.0,398.0 615.9,398.3 618.7,398.7 621.6,399.0 624.5,399.4 627.4,399.7 630.3,400.1 633.1,400.4 636.0,400.7 638.9,401.1 641.8,401.4 644.7,401.8 647.5,402.1 650.4,402.5 653.3,402.9 656.2,403.2 659.0,403.6 661.9,404.0 664.8,404.3 667.7,404.7 670.6,405.1 673.4,405.5 676.3,405.9 679.2,406.3 682.1,406.7 685.0,407.1 687.8,407.5 690.7,407.9 693.6,408.3 696.5,408.7 699.4,409.1 702.2,409.5 705.1,409.9 708.0,410.3 710.9,410.7 713.8,411.1 716.6,411.5 719.5,411.9 722.4,412.3 725.3,412.6 728.2,413.0 731.0,413.4 733.9,413.7 736.8,414.0 739.7,414.3 742.5,414.5 745.4,414.7 748.3,414.9 751.2,415.0 754.1,415.2 756.9,415.3 759.8,415.4 762.1,415.4" fill="none" stroke="#1f6be0" stroke-width="1.0" stroke-linejoin="round"/>
<polyline points="48.6,415.4 51.5,415.3 54.4,415.3 57.3,415.1 60.2,415.0 63.0,414.8 65.9,414.6 68.8,414.4 71.7,414.1 74.6,413.9 77.4,413.5 80.3,413.2 83.2,412.8 86.1,412.4 89.0,412.0 91.8,411.6 94.7,411.2 97.6,410.8 100.5,410.4 103.4,409.9 106.2,409.5 109.1,409.1 112.0,408.7 114.9,408.2 117.7,407.8 120.6,407.4 123.5,407.0 126.4,406.5 129.3,406.1 132.1,405.7 135.0,405.2 137.9,404.8 140.8,404.4 143.7,404.0 146.5,403.6 149.4,403.2 152.3,402.8 155.2,402.4 158.1,402.0 160.9,401.6 163.8,401.2 166.7,400.9 169.6,400.5 172.5,400.1 175.3,399.8 178.2,399.4 181.1,399.0 184.0,398.7 186.9,398.3 189.7,397.9 192.6,397.6 195.5,397.2 198.4,396.9 201.2,396.5 204.1,396.1 207.0,395.7 209.9,395.4 212.8,395.0 215.6,394.6 218.5,394.3 221.4,393.9 224.3,393.5 227.2,393.2 230.0,392.8 232.9,392.4 235.8,392.1 238.7,391.7 241.6,391.3 244.4,391.0 247.3,390.6 250.2,390.2 253.1,389.8 256.0,389.5 258.8,389.1 261.7,388.7 264.6,388.3 267.5,387.9 270.4,387.5 273.2,387.1 276.1,386.7 279.0,386.3 281.9,385.9 284.7,385.5 287.6,385.1 290.5,384.7 293.4,384.3 296.3,383.9 299.1,383.4 302.0,383.0 304.9,382.6 307.8,382.2 310.7,381.8 313.5,381.4 316.4,381.0 319.3,380.7 322.2,380.3 325.1,379.9 327.9,379.5 330.8,379.1 333.7,378.8 336.6,378.4 339.5,378.1 342.3,377.7 345.2,377.4 348.1,377.1 351.0,376.8 353.8,376.5 356.7,376.3 359.6,376.1 362.5,375.9 365.4,375.8 368.2,375.6 371.1,375.5 374.0,375.4 376.9,375.3 379.8,375.2 382.6,375.1 385.5,375.0 388.4,374.9 391.3,374.9 394.2,374.9 397.0,374.8 399.9,374.8 402.8,374.8 405.7,374.8 408.6,374.8 411.4,374.8 414.3,374.8 417.2,374.9 420.1,374.9 423.0,375.0 425.8,375.0 428.7,375.1 431.6,375.2 434.5,375.3 437.3,375.4 440.2,375.5 443.1,375.6 446.0,375.8 448.9,376.0 451.7,376.2 454.6,376.4 457.5,376.6 460.4,376.8 463.3,377.1 466.1,377.4 469.0,377.8 471.9,378.1 474.8,378.5 477.7,378.9 480.5,379.2 483.4,379.6 486.3,380.0 489.2,380.3 492.1,380.7 494.9,381.1 497.8,381.5 500.7,381.9 503.6,382.3 506.4,382.7 509.3,383.1 512.2,383.5 515.1,383.9 518.0,384.3 520.8,384.8 523.7,385.2 526.6,385.6 529.5,386.0 532.4,386.4 535.2,386.8 538.1,387.2 541.0,387.6 543.9,388.0 546.8,388.4 549.6,388.8 552.5,389.1 555.4,389.5 558.3,389.9 561.2,390.3 564.0,390.7 566.9,391.0 569.8,391.4 572.7,391.8 575.6,392.1 578.4,392.5 581.3,392.9 584.2,393.2 587.1,393.6 589.9,394.0 592.8,394.3 595.7,394.7 598.6,395.1 601.5,395.4 604.3,395.8 607.2,396.2 610.1,396.6 613.0,396.9 615.9,397.3 618.7,397.7 621.6,398.0 624.5,398.4 627.4,398.7 630.3,399.1 633.1,399.5 636.0,399.8 638.9,400.2 641.8,400.6 644.7,400.9 647.5,401.3 650.4,401.7 653.3,402.1 656.2,402.5 659.0,402.9 661.9,403.2 664.8,403.6 667.7,404.1 670.6,404.5 673.4,404.9 676.3,405.3 679.2,405.7 682.1,406.2 685.0,406.6 687.8,407.0 690.7,407.5 693.6,407.9 696.5,408.3 699.4,408.7 702.2,409.2 705.1,409.6 708.0,410.0 710.9,410.5 713.8,410.9 716.6,411.3 719.5,411.7 722.4,412.1 725.3,412.5 728.2,412.9 731.0,413.3 733.9,413.6 736.8,413.9 739.7,414.2 742.5,414.5 745.4,414.7 748.3,414.9 751.2,415.0 754.1,415.2 756.9,415.3 759.8,415.4 762.1,415.4" fill="none" stroke="#ffffff" stroke-width="1.6"/>
<polyline points="48.6,415.4 51.5,415.3 54.4,415.3 57.3,415.1 60.2,415.0 63.0,414.8 65.9,414.6 68.8,414.4 71.7,414.1 74.6,413.9 77.4,413.5 80.3,413.2 83.2,412.8 86.1,412.4 89.0,412.0 91.8,411.6 94.7,411.2 97.6,410.8 100.5,410.4 103.4,409.9 106.2,409.5 109.1,409.1 112.0,408.7 114.9,408.2 117.7,407.8 120.6,407.4 123.5,407.0 126.4,406.5 129.3,406.1 132.1,405.7 135.0,405.2 137.9,404.8 140.8,404.4 143.7,404.0 146.5,403.6 149.4,403.2 152.3,402.8 155.2,402.4 158.1,402.0 160.9,401.6 163.8,401.2 166.7,400.9 169.6,400.5 172.5,400.1 175.3,399.8 178.2,399.4 181.1,399.0 184.0,398.7 186.9,398.3 189.7,397.9 192.6,397.6 195.5,397.2 198.4,396.9 201.2,396.5 204.1,396.1 207.0,395.7 209.9,395.4 212.8,395.0 215.6,394.6 218.5,394.3 221.4,393.9 224.3,393.5 227.2,393.2 230.0,392.8 232.9,392.4 235.8,392.1 238.7,391.7 241.6,391.3 244.4,391.0 247.3,390.6 250.2,390.2 253.1,389.8 256.0,389.5 258.8,389.1 261.7,388.7 264.6,388.3 267.5,387.9 270.4,387.5 273.2,387.1 276.1,386.7 279.0,386.3 281.9,385.9 284.7,385.5 287.6,385.1 290.5,384.7 293.4,384.3 296.3,383.9 299.1,383.4 302.0,383.0 304.9,382.6 307.8,382.2 310.7,381.8 313.5,381.4 316.4,381.0 319.3,380.7 322.2,380.3 325.1,379.9 327.9,379.5 330.8,379.1 333.7,378.8 336.6,378.4 339.5,378.1 342.3,377.7 345.2,377.4 348.1,377.1 351.0,376.8 353.8,376.5 356.7,376.3 359.6,376.1 362.5,375.9 365.4,375.8 368.2,375.6 371.1,375.5 374.0,375.4 376.9,375.3 379.8,375.2 382.6,375.1 385.5,375.0 388.4,374.9 391.3,374.9 394.2,374.9 397.0,374.8 399.9,374.8 402.8,374.8 405.7,374.8 408.6,374.8 411.4,374.8 414.3,374.8 417.2,374.9 420.1,374.9 423.0,375.0 425.8,375.0 428.7,375.1 431.6,375.2 434.5,375.3 437.3,375.4 440.2,375.5 443.1,375.6 446.0,375.8 448.9,376.0 451.7,376.2 454.6,376.4 457.5,376.6 460.4,376.8 463.3,377.1 466.1,377.4 469.0,377.8 471.9,378.1 474.8,378.5 477.7,378.9 480.5,379.2 483.4,379.6 486.3,380.0 489.2,380.3 492.1,380.7 494.9,381.1 497.8,381.5 500.7,381.9 503.6,382.3 506.4,382.7 509.3,383.1 512.2,383.5 515.1,383.9 518.0,384.3 520.8,384.8 523.7,385.2 526.6,385.6 529.5,386.0 532.4,386.4 535.2,386.8 538.1,387.2 541.0,387.6 543.9,388.0 546.8,388.4 549.6,388.8 552.5,389.1 555.4,389.5 558.3,389.9 561.2,390.3 564.0,390.7 566.9,391.0 569.8,391.4 572.7,391.8 575.6,392.1 578.4,392.5 581.3,392.9 584.2,393.2 587.1,393.6 589.9,394.0 592.8,394.3 595.7,394.7 598.6,395.1 601.5,395.4 604.3,395.8 607.2,396.2 610.1,396.6 613.0,396.9 615.9,397.3 618.7,397.7 621.6,398.0 624.5,398.4 627.4,398.7 630.3,399.1 633.1,399.5 636.0,399.8 638.9,400.2 641.8,400.6 644.7,400.9 647.5,401.3 650.4,401.7 653.3,402.1 656.2,402.5 659.0,402.9 661.9,403.2 664.8,403.6 667.7,404.1 670.6,404.5 673.4,404.9 676.3,405.3 679.2,405.7 682.1,406.2 685.0,406.6 687.8,407.0 690.7,407.5 693.6,407.9 696.5,408.3 699.4,408.7 702.2,409.2 705.1,409.6 708.0,410.0 710.9,410.5 713.8,410.9 716.6,411.3 719.5,411.7 722.4,412.1 725.3,412.5 728.2,412.9 731.0,413.3 733.9,413.6 736.8,413.9 739.7,414.2 742.5,414.5 745.4,414.7 748.3,414.9 751.2,415.0 754.1,415.2 756.9,415.3 759.8,415.4 762.1,415.4" fill="none" stroke="#2fa56a" stroke-width="1.1" stroke-dasharray="3.2 3.2"/>
<polyline points="48.6,415.4 51.5,415.3 54.4,415.3 57.3,415.1 60.2,415.0 63.0,414.8 65.9,414.6 68.8,414.3 71.7,414.1 74.6,413.8 77.4,413.4 80.3,413.1 83.2,412.6 86.1,412.2 89.0,411.8 91.8,411.4 94.7,411.0 97.6,410.5 100.5,410.1 103.4,409.6 106.2,409.2 109.1,408.7 112.0,408.3 114.9,407.8 117.7,407.4 120.6,406.9 123.5,406.5 126.4,406.0 129.3,405.5 132.1,405.1 135.0,404.6 137.9,404.2 140.8,403.7 143.7,403.3 146.5,402.9 149.4,402.5 152.3,402.0 155.2,401.6 158.1,401.2 160.9,400.8 163.8,400.4 166.7,400.0 169.6,399.6 172.5,399.2 175.3,398.8 178.2,398.5 181.1,398.1 184.0,397.7 186.9,397.3 189.7,396.9 192.6,396.5 195.5,396.2 198.4,395.8 201.2,395.4 204.1,395.0 207.0,394.6 209.9,394.2 212.8,393.8 215.6,393.4 218.5,393.0 221.4,392.6 224.3,392.3 227.2,391.9 230.0,391.5 232.9,391.1 235.8,390.7 238.7,390.3 241.6,389.9 244.4,389.5 247.3,389.1 250.2,388.7 253.1,388.3 256.0,387.9 258.8,387.5 261.7,387.1 264.6,386.7 267.5,386.3 270.4,385.9 273.2,385.5 276.1,385.0 279.0,384.6 281.9,384.2 284.7,383.7 287.6,383.3 290.5,382.9 293.4,382.4 296.3,382.0 299.1,381.6 302.0,381.1 304.9,380.7 307.8,380.3 310.7,379.9 313.5,379.4 316.4,379.0 319.3,378.6 322.2,378.2 325.1,377.8 327.9,377.4 330.8,377.0 333.7,376.6 336.6,376.3 339.5,375.9 342.3,375.5 345.2,375.2 348.1,374.8 351.0,374.5 353.8,374.3 356.7,374.0 359.6,373.8 362.5,373.6 365.4,373.4 368.2,373.3 371.1,373.1 374.0,373.0 376.9,372.9 379.8,372.8 382.6,372.7 385.5,372.6 388.4,372.6 391.3,372.5 394.2,372.5 397.0,372.5 399.9,372.5 402.8,372.4 405.7,372.4 408.6,372.4 411.4,372.5 414.3,372.5 417.2,372.5 420.1,372.5 423.0,372.6 425.8,372.7 428.7,372.7 431.6,372.8 434.5,372.9 437.3,373.0 440.2,373.2 443.1,373.3 446.0,373.5 448.9,373.7 451.7,373.9 454.6,374.1 457.5,374.3 460.4,374.6 463.3,374.9 466.1,375.2 469.0,375.6 471.9,376.0 474.8,376.3 477.7,376.7 480.5,377.1 483.4,377.5 486.3,377.9 489.2,378.3 492.1,378.7 494.9,379.1 497.8,379.5 500.7,380.0 503.6,380.4 506.4,380.8 509.3,381.2 512.2,381.7 515.1,382.1 518.0,382.5 520.8,383.0 523.7,383.4 526.6,383.8 529.5,384.3 532.4,384.7 535.2,385.1 538.1,385.6 541.0,386.0 543.9,386.4 546.8,386.8 549.6,387.2 552.5,387.6 555.4,388.0 558.3,388.4 561.2,388.8 564.0,389.2 566.9,389.6 569.8,390.0 572.7,390.4 575.6,390.8 578.4,391.2 581.3,391.6 584.2,391.9 587.1,392.3 589.9,392.7 592.8,393.1 595.7,393.5 598.6,393.9 601.5,394.3 604.3,394.7 607.2,395.1 610.1,395.5 613.0,395.8 615.9,396.2 618.7,396.6 621.6,397.0 624.5,397.4 627.4,397.8 630.3,398.2 633.1,398.5 636.0,398.9 638.9,399.3 641.8,399.7 644.7,400.1 647.5,400.5 650.4,400.9 653.3,401.3 656.2,401.7 659.0,402.1 661.9,402.5 664.8,403.0 667.7,403.4 670.6,403.8 673.4,404.3 676.3,404.7 679.2,405.2 682.1,405.6 685.0,406.1 687.8,406.5 690.7,407.0 693.6,407.4 696.5,407.9 699.4,408.4 702.2,408.8 705.1,409.3 708.0,409.7 710.9,410.2 713.8,410.6 716.6,411.0 719.5,411.5 722.4,411.9 725.3,412.3 728.2,412.7 731.0,413.1 733.9,413.5 736.8,413.8 739.7,414.1 742.5,414.4 745.4,414.6 748.3,414.8 751.2,415.0 754.1,415.1 756.9,415.3 759.8,415.4 762.1,415.4" fill="none" stroke="#b67fee" stroke-width="1.0" stroke-linejoin="round"/>
<polyline points="48.6,415.4 51.5,415.3 54.4,415.2 57.3,415.1 60.2,414.9 63.0,414.8 65.9,414.6 68.8,414.3 71.7,414.0 74.6,413.7 77.4,413.3 80.3,412.9 83.2,412.5 86.1,412.1 89.0,411.6 91.8,411.2 94.7,410.7 97.6,410.3 100.5,409.8 103.4,409.3 106.2,408.8 109.1,408.4 112.0,407.9 114.9,407.4 117.7,406.9 120.6,406.4 123.5,406.0 126.4,405.5 129.3,405.0 132.1,404.5 135.0,404.0 137.9,403.6 140.8,403.1 143.7,402.6 146.5,402.2 149.4,401.7 152.3,401.3 155.2,400.9 158.1,400.4 160.9,400.0 163.8,399.6 166.7,399.2 169.6,398.8 172.5,398.3 175.3,397.9 178.2,397.5 181.1,397.1 184.0,396.7 186.9,396.3 189.7,395.9 192.6,395.5 195.5,395.1 198.4,394.7 201.2,394.3 204.1,393.9 207.0,393.4 209.9,393.0 212.8,392.6 215.6,392.2 218.5,391.8 221.4,391.4 224.3,391.0 227.2,390.6 230.0,390.2 232.9,389.7 235.8,389.3 238.7,388.9 241.6,388.5 244.4,388.1 247.3,387.7 250.2,387.3 253.1,386.8 256.0,386.4 258.8,386.0 261.7,385.6 264.6,385.1 267.5,384.7 270.4,384.3 273.2,383.8 276.1,383.4 279.0,382.9 281.9,382.5 284.7,382.0 287.6,381.5 290.5,381.1 293.4,380.6 296.3,380.2 299.1,379.7 302.0,379.3 304.9,378.8 307.8,378.4 310.7,377.9 313.5,377.5 316.4,377.0 319.3,376.6 322.2,376.2 325.1,375.7 327.9,375.3 330.8,374.9 333.7,374.5 336.6,374.1 339.5,373.7 342.3,373.3 345.2,372.9 348.1,372.6 351.0,372.3 353.8,372.0 356.7,371.8 359.6,371.5 362.5,371.3 365.4,371.1 368.2,371.0 371.1,370.8 374.0,370.7 376.9,370.6 379.8,370.5 382.6,370.4 385.5,370.3 388.4,370.2 391.3,370.2 394.2,370.1 397.0,370.1 399.9,370.1 402.8,370.1 405.7,370.1 408.6,370.1 411.4,370.1 414.3,370.1 417.2,370.1 420.1,370.2 423.0,370.2 425.8,370.3 428.7,370.4 431.6,370.5 434.5,370.6 437.3,370.7 440.2,370.8 443.1,371.0 446.0,371.2 448.9,371.4 451.7,371.6 454.6,371.8 457.5,372.0 460.4,372.3 463.3,372.6 466.1,373.0 469.0,373.4 471.9,373.8 474.8,374.2 477.7,374.6 480.5,375.0 483.4,375.4 486.3,375.8 489.2,376.2 492.1,376.7 494.9,377.1 497.8,377.5 500.7,378.0 503.6,378.4 506.4,378.9 509.3,379.3 512.2,379.8 515.1,380.3 518.0,380.7 520.8,381.2 523.7,381.6 526.6,382.1 529.5,382.5 532.4,383.0 535.2,383.5 538.1,383.9 541.0,384.3 543.9,384.8 546.8,385.2 549.6,385.7 552.5,386.1 555.4,386.5 558.3,386.9 561.2,387.3 564.0,387.8 566.9,388.2 569.8,388.6 572.7,389.0 575.6,389.4 578.4,389.8 581.3,390.2 584.2,390.7 587.1,391.1 589.9,391.5 592.8,391.9 595.7,392.3 598.6,392.7 601.5,393.1 604.3,393.5 607.2,393.9 610.1,394.4 613.0,394.8 615.9,395.2 618.7,395.6 621.6,396.0 624.5,396.4 627.4,396.8 630.3,397.2 633.1,397.6 636.0,398.0 638.9,398.4 641.8,398.8 644.7,399.3 647.5,399.7 650.4,400.1 653.3,400.5 656.2,401.0 659.0,401.4 661.9,401.8 664.8,402.3 667.7,402.7 670.6,403.2 673.4,403.7 676.3,404.1 679.2,404.6 682.1,405.1 685.0,405.6 687.8,406.1 690.7,406.5 693.6,407.0 696.5,407.5 699.4,408.0 702.2,408.4 705.1,408.9 708.0,409.4 710.9,409.9 713.8,410.4 716.6,410.8 719.5,411.3 722.4,411.7 725.3,412.1 728.2,412.6 731.0,413.0 733.9,413.4 736.8,413.7 739.7,414.1 742.5,414.3 745.4,414.6 748.3,414.8 751.2,415.0 754.1,415.1 756.9,415.3 759.8,415.4 762.1,415.4" fill="none" stroke="#dea516" stroke-width="1.0" stroke-linejoin="round"/>
<polyline points="48.6,415.4 51.5,415.3 54.4,415.2 57.3,415.1 60.2,414.9 63.0,414.7 65.9,414.5 68.8,414.2 71.7,413.9 74.6,413.6 77.4,413.2 80.3,412.8 83.2,412.3 86.1,411.9 89.0,411.4 91.8,410.9 94.7,410.5 97.6,410.0 100.5,409.5 103.4,409.0 106.2,408.5 109.1,408.0 112.0,407.5 114.9,407.0 117.7,406.5 120.6,406.0 123.5,405.5 126.4,405.0 129.3,404.5 132.1,404.0 135.0,403.5 137.9,403.0 140.8,402.5 143.7,402.0 146.5,401.5 149.4,401.0 152.3,400.6 155.2,400.1 158.1,399.7 160.9,399.2 163.8,398.8 166.7,398.3 169.6,397.9 172.5,397.5 175.3,397.0 178.2,396.6 181.1,396.2 184.0,395.7 186.9,395.3 189.7,394.9 192.6,394.5 195.5,394.0 198.4,393.6 201.2,393.2 204.1,392.7 207.0,392.3 209.9,391.9 212.8,391.4 215.6,391.0 218.5,390.6 221.4,390.1 224.3,389.7 227.2,389.3 230.0,388.8 232.9,388.4 235.8,388.0 238.7,387.5 241.6,387.1 244.4,386.7 247.3,386.2 250.2,385.8 253.1,385.4 256.0,384.9 258.8,384.5 261.7,384.0 264.6,383.6 267.5,383.1 270.4,382.6 273.2,382.2 276.1,381.7 279.0,381.2 281.9,380.7 284.7,380.3 287.6,379.8 290.5,379.3 293.4,378.8 296.3,378.3 299.1,377.8 302.0,377.4 304.9,376.9 307.8,376.4 310.7,375.9 313.5,375.5 316.4,375.0 319.3,374.6 322.2,374.1 325.1,373.7 327.9,373.2 330.8,372.8 333.7,372.4 336.6,371.9 339.5,371.5 342.3,371.1 345.2,370.7 348.1,370.3 351.0,370.0 353.8,369.7 356.7,369.5 359.6,369.2 362.5,369.0 365.4,368.8 368.2,368.6 371.1,368.5 374.0,368.3 376.9,368.2 379.8,368.1 382.6,368.0 385.5,367.9 388.4,367.9 391.3,367.8 394.2,367.8 397.0,367.7 399.9,367.7 402.8,367.7 405.7,367.7 408.6,367.7 411.4,367.7 414.3,367.7 417.2,367.8 420.1,367.8 423.0,367.9 425.8,367.9 428.7,368.0 431.6,368.1 434.5,368.2 437.3,368.4 440.2,368.5 443.1,368.7 446.0,368.8 448.9,369.1 451.7,369.3 454.6,369.5 457.5,369.8 460.4,370.1 463.3,370.4 466.1,370.8 469.0,371.2 471.9,371.6 474.8,372.0 477.7,372.4 480.5,372.9 483.4,373.3 486.3,373.8 489.2,374.2 492.1,374.7 494.9,375.1 497.8,375.6 500.7,376.0 503.6,376.5 506.4,377.0 509.3,377.5 512.2,377.9 515.1,378.4 518.0,378.9 520.8,379.4 523.7,379.9 526.6,380.4 529.5,380.8 532.4,381.3 535.2,381.8 538.1,382.3 541.0,382.7 543.9,383.2 546.8,383.6 549.6,384.1 552.5,384.5 555.4,385.0 558.3,385.4 561.2,385.9 564.0,386.3 566.9,386.8 569.8,387.2 572.7,387.6 575.6,388.1 578.4,388.5 581.3,388.9 584.2,389.4 587.1,389.8 589.9,390.2 592.8,390.7 595.7,391.1 598.6,391.5 601.5,392.0 604.3,392.4 607.2,392.8 610.1,393.3 613.0,393.7 615.9,394.1 618.7,394.5 621.6,395.0 624.5,395.4 627.4,395.8 630.3,396.3 633.1,396.7 636.0,397.1 638.9,397.5 641.8,398.0 644.7,398.4 647.5,398.9 650.4,399.3 653.3,399.7 656.2,400.2 659.0,400.7 661.9,401.1 664.8,401.6 667.7,402.1 670.6,402.6 673.4,403.1 676.3,403.6 679.2,404.1 682.1,404.6 685.0,405.1 687.8,405.6 690.7,406.1 693.6,406.6 696.5,407.1 699.4,407.6 702.2,408.1 705.1,408.6 708.0,409.1 710.9,409.6 713.8,410.1 716.6,410.6 719.5,411.0 722.4,411.5 725.3,412.0 728.2,412.4 731.0,412.9 733.9,413.3 736.8,413.7 739.7,414.0 742.5,414.3 745.4,414.6 748.3,414.8 751.2,415.0 754.1,415.1 756.9,415.3 759.8,415.4 762.1,415.4" fill="none" stroke="#22c8c8" stroke-width="1.0" stroke-linejoin="round"/>
<polyline points="48.6,415.4 51.5,415.3 54.4,415.2 57.3,415.1 60.2,414.9 63.0,414.7 65.9,414.5 68.8,414.2 71.7,413.8 74.6,413.5 77.4,413.1 80.3,412.7 83.2,412.2 86.1,411.7 89.0,411.2 91.8,410.7 94.7,410.2 97.6,409.7 100.5,409.2 103.4,408.7 106.2,408.2 109.1,407.6 112.0,407.1 114.9,406.6 117.7,406.0 120.6,405.5 123.5,405.0 126.4,404.4 129.3,403.9 132.1,403.4 135.0,402.9 137.9,402.3 140.8,401.8 143.7,401.3 146.5,400.8 149.4,400.3 152.3,399.8 155.2,399.3 158.1,398.9 160.9,398.4 163.8,397.9 166.7,397.5 169.6,397.0 172.5,396.6 175.3,396.1 178.2,395.7 181.1,395.2 184.0,394.8 186.9,394.3 189.7,393.9 192.6,393.4 195.5,393.0 198.4,392.5 201.2,392.1 204.1,391.6 207.0,391.2 209.9,390.7 212.8,390.2 215.6,389.8 218.5,389.3 221.4,388.9 224.3,388.4 227.2,388.0 230.0,387.5 232.9,387.1 235.8,386.6 238.7,386.2 241.6,385.7 244.4,385.2 247.3,384.8 250.2,384.3 253.1,383.9 256.0,383.4 258.8,382.9 261.7,382.4 264.6,382.0 267.5,381.5 270.4,381.0 273.2,380.5 276.1,380.0 279.0,379.5 281.9,379.0 284.7,378.5 287.6,378.0 290.5,377.5 293.4,377.0 296.3,376.5 299.1,376.0 302.0,375.5 304.9,375.0 307.8,374.5 310.7,374.0 313.5,373.5 316.4,373.0 319.3,372.5 322.2,372.1 325.1,371.6 327.9,371.1 330.8,370.7 333.7,370.2 336.6,369.8 339.5,369.3 342.3,368.9 345.2,368.5 348.1,368.1 351.0,367.8 353.8,367.5 356.7,367.2 359.6,366.9 362.5,366.7 365.4,366.5 368.2,366.3 371.1,366.1 374.0,366.0 376.9,365.9 379.8,365.8 382.6,365.7 385.5,365.6 388.4,365.5 391.3,365.4 394.2,365.4 397.0,365.4 399.9,365.3 402.8,365.3 405.7,365.3 408.6,365.3 411.4,365.3 414.3,365.4 417.2,365.4 420.1,365.4 423.0,365.5 425.8,365.6 428.7,365.7 431.6,365.8 434.5,365.9 437.3,366.0 440.2,366.2 443.1,366.3 446.0,366.5 448.9,366.7 451.7,367.0 454.6,367.2 457.5,367.5 460.4,367.8 463.3,368.2 466.1,368.6 469.0,369.0 471.9,369.4 474.8,369.9 477.7,370.3 480.5,370.8 483.4,371.2 486.3,371.7 489.2,372.2 492.1,372.6 494.9,373.1 497.8,373.6 500.7,374.1 503.6,374.6 506.4,375.1 509.3,375.6 512.2,376.1 515.1,376.6 518.0,377.1 520.8,377.6 523.7,378.1 526.6,378.6 529.5,379.1 532.4,379.6 535.2,380.1 538.1,380.6 541.0,381.1 543.9,381.6 546.8,382.1 549.6,382.5 552.5,383.0 555.4,383.5 558.3,383.9 561.2,384.4 564.0,384.9 566.9,385.3 569.8,385.8 572.7,386.2 575.6,386.7 578.4,387.2 581.3,387.6 584.2,388.1 587.1,388.5 589.9,389.0 592.8,389.4 595.7,389.9 598.6,390.3 601.5,390.8 604.3,391.2 607.2,391.7 610.1,392.2 613.0,392.6 615.9,393.1 618.7,393.5 621.6,394.0 624.5,394.4 627.4,394.9 630.3,395.3 633.1,395.7 636.0,396.2 638.9,396.7 641.8,397.1 644.7,397.6 647.5,398.0 650.4,398.5 653.3,399.0 656.2,399.4 659.0,399.9 661.9,400.4 664.8,400.9 667.7,401.4 670.6,401.9 673.4,402.4 676.3,403.0 679.2,403.5 682.1,404.0 685.0,404.6 687.8,405.1 690.7,405.6 693.6,406.1 696.5,406.7 699.4,407.2 702.2,407.7 705.1,408.3 708.0,408.8 710.9,409.3 713.8,409.8 716.6,410.3 719.5,410.8 722.4,411.3 725.3,411.8 728.2,412.3 731.0,412.8 733.9,413.2 736.8,413.6 739.7,413.9 742.5,414.2 745.4,414.5 748.3,414.7 751.2,414.9 754.1,415.1 756.9,415.3 759.8,415.4 762.1,415.4" fill="none" stroke="#804a4a" stroke-width="1.0" stroke-linejoin="round"/>
<polyline points="48.6,415.4 51.5,415.3 54.4,415.2 57.3,415.1 60.2,414.9 63.0,414.7 65.9,414.4 68.8,414.1 71.7,413.8 74.6,413.4 77.4,413.0 80.3,412.5 83.2,412.0 86.1,411.5 89.0,411.0 91.8,410.5 94.7,410.0 97.6,409.5 100.5,408.9 103.4,408.4 106.2,407.8 109.1,407.2 112.0,406.7 114.9,406.1 117.7,405.6 120.6,405.0 123.5,404.5 126.4,403.9 129.3,403.4 132.1,402.8 135.0,402.3 137.9,401.7 140.8,401.2 143.7,400.6 146.5,400.1 149.4,399.6 152.3,399.1 155.2,398.6 158.1,398.1 160.9,397.6 163.8,397.1 166.7,396.6 169.6,396.1 172.5,395.7 175.3,395.2 178.2,394.7 181.1,394.3 184.0,393.8 186.9,393.3 189.7,392.8 192.6,392.4 195.5,391.9 198.4,391.4 201.2,391.0 204.1,390.5 207.0,390.0 209.9,389.5 212.8,389.0 215.6,388.6 218.5,388.1 221.4,387.6 224.3,387.1 227.2,386.7 230.0,386.2 232.9,385.7 235.8,385.2 238.7,384.8 241.6,384.3 244.4,383.8 247.3,383.3 250.2,382.8 253.1,382.4 256.0,381.9 258.8,381.4 261.7,380.9 264.6,380.4 267.5,379.9 270.4,379.4 273.2,378.9 276.1,378.3 279.0,377.8 281.9,377.3 284.7,376.8 287.6,376.2 290.5,375.7 293.4,375.2 296.3,374.6 299.1,374.1 302.0,373.6 304.9,373.1 307.8,372.5 310.7,372.0 313.5,371.5 316.4,371.0 319.3,370.5 322.2,370.0 325.1,369.5 327.9,369.0 330.8,368.6 333.7,368.1 336.6,367.6 339.5,367.2 342.3,366.7 345.2,366.3 348.1,365.9 351.0,365.5 353.8,365.2 356.7,364.9 359.6,364.6 362.5,364.4 365.4,364.2 368.2,364.0 371.1,363.8 374.0,363.7 376.9,363.5 379.8,363.4 382.6,363.3 385.5,363.2 388.4,363.1 391.3,363.1 394.2,363.0 397.0,363.0 399.9,363.0 402.8,362.9 405.7,362.9 408.6,362.9 411.4,363.0 414.3,363.0 417.2,363.0 420.1,363.1 423.0,363.1 425.8,363.2 428.7,363.3 431.6,363.4 434.5,363.5 437.3,363.7 440.2,363.8 443.1,364.0 446.0,364.2 448.9,364.4 451.7,364.7 454.6,365.0 457.5,365.2 460.4,365.6 463.3,365.9 466.1,366.3 469.0,366.8 471.9,367.3 474.8,367.7 477.7,368.2 480.5,368.6 483.4,369.1 486.3,369.6 489.2,370.1 492.1,370.6 494.9,371.1 497.8,371.6 500.7,372.1 503.6,372.6 506.4,373.2 509.3,373.7 512.2,374.2 515.1,374.7 518.0,375.3 520.8,375.8 523.7,376.3 526.6,376.9 529.5,377.4 532.4,377.9 535.2,378.4 538.1,379.0 541.0,379.5 543.9,380.0 546.8,380.5 549.6,381.0 552.5,381.5 555.4,382.0 558.3,382.5 561.2,382.9 564.0,383.4 566.9,383.9 569.8,384.4 572.7,384.9 575.6,385.3 578.4,385.8 581.3,386.3 584.2,386.8 587.1,387.2 589.9,387.7 592.8,388.2 595.7,388.7 598.6,389.1 601.5,389.6 604.3,390.1 607.2,390.6 610.1,391.1 613.0,391.5 615.9,392.0 618.7,392.5 621.6,392.9 624.5,393.4 627.4,393.9 630.3,394.3 633.1,394.8 636.0,395.3 638.9,395.8 641.8,396.2 644.7,396.7 647.5,397.2 650.4,397.7 653.3,398.2 656.2,398.7 659.0,399.2 661.9,399.7 664.8,400.2 667.7,400.7 670.6,401.3 673.4,401.8 676.3,402.4 679.2,402.9 682.1,403.5 685.0,404.0 687.8,404.6 690.7,405.1 693.6,405.7 696.5,406.2 699.4,406.8 702.2,407.4 705.1,407.9 708.0,408.5 710.9,409.0 713.8,409.6 716.6,410.1 719.5,410.6 722.4,411.1 725.3,411.6 728.2,412.1 731.0,412.6 733.9,413.1 736.8,413.5 739.7,413.8 742.5,414.2 745.4,414.5 748.3,414.7 751.2,414.9 754.1,415.1 756.9,415.2 759.8,415.4 762.1,415.4" fill="none" stroke="#9f9f16" stroke-width="1.0" stroke-linejoin="round"/>
<polyline points="48.6,415.4 51.5,415.3 54.4,415.2 57.3,415.0 60.2,414.8 63.0,414.6 65.9,414.4 68.8,414.1 71.7,413.7 74.6,413.3 77.4,412.9 80.3,412.4 83.2,411.9 86.1,411.4 89.0,410.8 91.8,410.3 94.7,409.7 97.6,409.2 100.5,408.6 103.4,408.0 106.2,407.5 109.1,406.9 112.0,406.3 114.9,405.7 117.7,405.1 120.6,404.6 123.5,404.0 126.4,403.4 129.3,402.8 132.1,402.3 135.0,401.7 137.9,401.1 140.8,400.5 143.7,400.0 146.5,399.4 149.4,398.9 152.3,398.4 155.2,397.8 158.1,397.3 160.9,396.8 163.8,396.3 166.7,395.8 169.6,395.3 172.5,394.8 175.3,394.3 178.2,393.8 181.1,393.3 184.0,392.8 186.9,392.3 189.7,391.8 192.6,391.3 195.5,390.8 198.4,390.3 201.2,389.9 204.1,389.4 207.0,388.9 209.9,388.4 212.8,387.9 215.6,387.4 218.5,386.9 221.4,386.4 224.3,385.9 227.2,385.4 230.0,384.9 232.9,384.4 235.8,383.9 238.7,383.4 241.6,382.9 244.4,382.4 247.3,381.9 250.2,381.4 253.1,380.9 256.0,380.4 258.8,379.8 261.7,379.3 264.6,378.8 267.5,378.3 270.4,377.7 273.2,377.2 276.1,376.7 279.0,376.1 281.9,375.6 284.7,375.0 287.6,374.5 290.5,373.9 293.4,373.3 296.3,372.8 299.1,372.2 302.0,371.7 304.9,371.1 307.8,370.6 310.7,370.1 313.5,369.5 316.4,369.0 319.3,368.5 322.2,368.0 325.1,367.4 327.9,366.9 330.8,366.4 333.7,365.9 336.6,365.5 339.5,365.0 342.3,364.5 345.2,364.0 348.1,363.6 351.0,363.2 353.8,362.9 356.7,362.6 359.6,362.3 362.5,362.1 365.4,361.9 368.2,361.6 371.1,361.5 374.0,361.3 376.9,361.2 379.8,361.1 382.6,360.9 385.5,360.8 388.4,360.8 391.3,360.7 394.2,360.7 397.0,360.6 399.9,360.6 402.8,360.6 405.7,360.6 408.6,360.6 411.4,360.6 414.3,360.6 417.2,360.7 420.1,360.7 423.0,360.8 425.8,360.9 428.7,361.0 431.6,361.1 434.5,361.2 437.3,361.3 440.2,361.5 443.1,361.7 446.0,361.9 448.9,362.1 451.7,362.4 454.6,362.7 457.5,363.0 460.4,363.3 463.3,363.7 466.1,364.1 469.0,364.6 471.9,365.1 474.8,365.6 477.7,366.0 480.5,366.5 483.4,367.0 486.3,367.5 489.2,368.1 492.1,368.6 494.9,369.1 497.8,369.6 500.7,370.2 503.6,370.7 506.4,371.3 509.3,371.8 512.2,372.4 515.1,372.9 518.0,373.5 520.8,374.0 523.7,374.6 526.6,375.1 529.5,375.7 532.4,376.2 535.2,376.8 538.1,377.3 541.0,377.9 543.9,378.4 546.8,378.9 549.6,379.4 552.5,379.9 555.4,380.5 558.3,381.0 561.2,381.5 564.0,382.0 566.9,382.5 569.8,383.0 572.7,383.5 575.6,384.0 578.4,384.5 581.3,385.0 584.2,385.5 587.1,386.0 589.9,386.5 592.8,387.0 595.7,387.5 598.6,388.0 601.5,388.5 604.3,389.0 607.2,389.5 610.1,390.0 613.0,390.4 615.9,390.9 618.7,391.4 621.6,391.9 624.5,392.4 627.4,392.9 630.3,393.4 633.1,393.9 636.0,394.4 638.9,394.9 641.8,395.4 644.7,395.9 647.5,396.4 650.4,396.9 653.3,397.4 656.2,397.9 659.0,398.5 661.9,399.0 664.8,399.5 667.7,400.1 670.6,400.6 673.4,401.2 676.3,401.8 679.2,402.4 682.1,402.9 685.0,403.5 687.8,404.1 690.7,404.7 693.6,405.3 696.5,405.8 699.4,406.4 702.2,407.0 705.1,407.6 708.0,408.2 710.9,408.7 713.8,409.3 716.6,409.8 719.5,410.4 722.4,410.9 725.3,411.5 728.2,412.0 731.0,412.5 733.9,413.0 736.8,413.4 739.7,413.8 742.5,414.1 745.4,414.4 748.3,414.7 751.2,414.9 754.1,415.1 756.9,415.2 759.8,415.4 762.1,415.4" fill="none" stroke="#ff6d0a" stroke-width="1.0" stroke-linejoin="round"/>
<rect x="33.1" y="350.7" width="748.6" height="72.6" fill="none" stroke="#4a4a4a" stroke-width="1.25"/>
<line x1="61.9" y1="423.3" x2="61.9" y2="421.3" stroke="#222" stroke-width="0.9"/>
<line x1="90.7" y1="423.3" x2="90.7" y2="420.3" stroke="#222" stroke-width="0.9"/>
<line x1="119.5" y1="423.3" x2="119.5" y2="421.3" stroke="#222" stroke-width="0.9"/>
<line x1="148.3" y1="423.3" x2="148.3" y2="420.3" stroke="#222" stroke-width="0.9"/>
<line x1="177.1" y1="423.3" x2="177.1" y2="421.3" stroke="#222" stroke-width="0.9"/>
<line x1="205.9" y1="423.3" x2="205.9" y2="420.3" stroke="#222" stroke-width="0.9"/>
<line x1="234.6" y1="423.3" x2="234.6" y2="421.3" stroke="#222" stroke-width="0.9"/>
<line x1="263.4" y1="423.3" x2="263.4" y2="420.3" stroke="#222" stroke-width="0.9"/>
<line x1="292.2" y1="423.3" x2="292.2" y2="421.3" stroke="#222" stroke-width="0.9"/>
<line x1="321.0" y1="423.3" x2="321.0" y2="420.3" stroke="#222" stroke-width="0.9"/>
<line x1="349.8" y1="423.3" x2="349.8" y2="421.3" stroke="#222" stroke-width="0.9"/>
<line x1="378.6" y1="423.3" x2="378.6" y2="420.3" stroke="#222" stroke-width="0.9"/>
<line x1="407.4" y1="423.3" x2="407.4" y2="421.3" stroke="#222" stroke-width="0.9"/>
<line x1="436.2" y1="423.3" x2="436.2" y2="420.3" stroke="#222" stroke-width="0.9"/>
<line x1="465.0" y1="423.3" x2="465.0" y2="421.3" stroke="#222" stroke-width="0.9"/>
<line x1="493.8" y1="423.3" x2="493.8" y2="420.3" stroke="#222" stroke-width="0.9"/>
<line x1="522.6" y1="423.3" x2="522.6" y2="421.3" stroke="#222" stroke-width="0.9"/>
<line x1="551.4" y1="423.3" x2="551.4" y2="420.3" stroke="#222" stroke-width="0.9"/>
<line x1="580.2" y1="423.3" x2="580.2" y2="421.3" stroke="#222" stroke-width="0.9"/>
<line x1="609.0" y1="423.3" x2="609.0" y2="420.3" stroke="#222" stroke-width="0.9"/>
<line x1="637.7" y1="423.3" x2="637.7" y2="421.3" stroke="#222" stroke-width="0.9"/>
<line x1="666.5" y1="423.3" x2="666.5" y2="420.3" stroke="#222" stroke-width="0.9"/>
<line x1="695.3" y1="423.3" x2="695.3" y2="421.3" stroke="#222" stroke-width="0.9"/>
<line x1="724.1" y1="423.3" x2="724.1" y2="420.3" stroke="#222" stroke-width="0.9"/>
<line x1="752.9" y1="423.3" x2="752.9" y2="421.3" stroke="#222" stroke-width="0.9"/>
<line x1="33.1" y1="416.7" x2="36.1" y2="416.7" stroke="#222" stroke-width="0.9"/>
<line x1="33.1" y1="410.1" x2="35.1" y2="410.1" stroke="#222" stroke-width="0.9"/>
<line x1="33.1" y1="403.5" x2="36.1" y2="403.5" stroke="#222" stroke-width="0.9"/>
<line x1="33.1" y1="396.9" x2="35.1" y2="396.9" stroke="#222" stroke-width="0.9"/>
<line x1="33.1" y1="390.3" x2="36.1" y2="390.3" stroke="#222" stroke-width="0.9"/>
<line x1="33.1" y1="383.7" x2="35.1" y2="383.7" stroke="#222" stroke-width="0.9"/>
<line x1="33.1" y1="377.1" x2="36.1" y2="377.1" stroke="#222" stroke-width="0.9"/>
<line x1="33.1" y1="370.5" x2="35.1" y2="370.5" stroke="#222" stroke-width="0.9"/>
<line x1="33.1" y1="363.9" x2="36.1" y2="363.9" stroke="#222" stroke-width="0.9"/>
<line x1="33.1" y1="357.3" x2="35.1" y2="357.3" stroke="#222" stroke-width="0.9"/>
<line x1="33.1" y1="350.7" x2="36.1" y2="350.7" stroke="#222" stroke-width="0.9"/>
<g font-family="'Liberation Serif', serif" font-size="10.3" fill="#111">
<text x="33.1" y="435.6" text-anchor="middle">10</text>
<text x="90.7" y="435.6" text-anchor="middle">20</text>
<text x="148.3" y="435.6" text-anchor="middle">30</text>
<text x="205.9" y="435.6" text-anchor="middle">40</text>
<text x="263.4" y="435.6" text-anchor="middle">50</text>
<text x="321.0" y="435.6" text-anchor="middle">60</text>
<text x="378.6" y="435.6" text-anchor="middle">70</text>
<text x="436.2" y="435.6" text-anchor="middle">80</text>
<text x="493.8" y="435.6" text-anchor="middle">90</text>
<text x="551.4" y="435.6" text-anchor="middle">100</text>
<text x="609.0" y="435.6" text-anchor="middle">110</text>
<text x="666.5" y="435.6" text-anchor="middle">120</text>
<text x="724.1" y="435.6" text-anchor="middle">130</text>
<text x="781.7" y="435.6" text-anchor="middle">140</text>
<text x="28.5" y="420.0" text-anchor="end">−2</text>
<text x="28.5" y="406.8" text-anchor="end">−1</text>
<text x="28.5" y="393.6" text-anchor="end">0</text>
<text x="28.5" y="380.4" text-anchor="end">1</text>
<text x="28.5" y="367.2" text-anchor="end">2</text>
<text x="28.5" y="354.0" text-anchor="end">3</text>
<text transform="translate(14.6,386.3) rotate(-90)" text-anchor="middle" font-size="12.6" textLength="103" lengthAdjust="spacingAndGlyphs">Lateral distance(m)</text>
<text x="622" y="388" font-size="11.2" textLength="79.5" lengthAdjust="spacingAndGlyphs">The optimal path</text>
</g>
<line x1="620" y1="384.5" x2="590" y2="393.5" stroke="#222" stroke-width="0.8"/>
<polygon points="621,384.2 614.5,384.3 616,388" fill="#222"/>
</g>
<g font-family="'Liberation Serif', serif" font-size="18" fill="#000">
<text x="176.6" y="327.6" text-anchor="middle">(<tspan font-weight="bold">a</tspan>)</text>
<text x="605.2" y="327.6" text-anchor="middle">(<tspan font-weight="bold">b</tspan>)</text>
<text x="395.4" y="462.0" text-anchor="middle">(<tspan font-weight="bold">c</tspan>)</text>
</g>
</svg></body></html>
